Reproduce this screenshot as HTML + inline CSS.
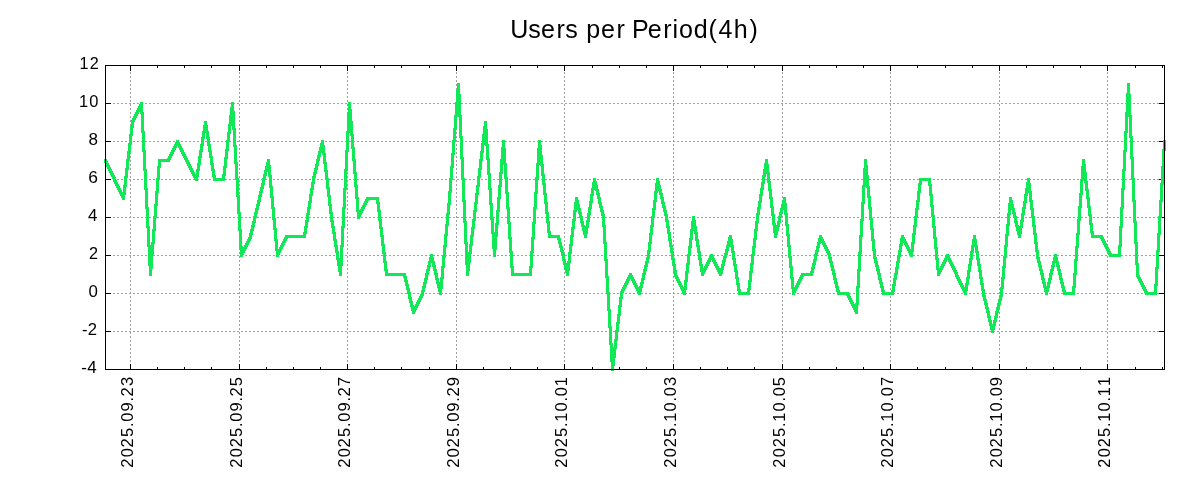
<!DOCTYPE html>
<html><head><meta charset="utf-8"><title>Users per Period(4h)</title><style>
html,body{margin:0;padding:0;background:#fff;width:1200px;height:500px;overflow:hidden}
svg{display:block;will-change:transform}
text{font-family:"Liberation Sans",sans-serif;fill:#000000}
</style></head><body>
<svg width="1200" height="500" viewBox="0 0 1200 500">
<rect x="0" y="0" width="1200" height="500" fill="#ffffff"/>
<g shape-rendering="crispEdges">
<path fill="#a0a0a0" d="M564 72h1v2h-1zM130 72h1v2h-1zM239 72h1v2h-1zM673 72h1v2h-1zM782 72h1v2h-1zM999 72h1v2h-1zM1107 72h1v2h-1zM890 72h1v2h-1zM347 72h1v2h-1zM456 72h1v2h-1zM564 76h1v2h-1zM130 76h1v2h-1zM239 76h1v2h-1zM673 76h1v2h-1zM782 76h1v2h-1zM999 76h1v2h-1zM1107 76h1v2h-1zM890 76h1v2h-1zM347 76h1v2h-1zM456 76h1v2h-1zM564 80h1v2h-1zM130 80h1v2h-1zM239 80h1v2h-1zM673 80h1v2h-1zM782 80h1v2h-1zM999 80h1v2h-1zM1107 80h1v2h-1zM890 80h1v2h-1zM347 80h1v2h-1zM456 80h1v2h-1zM564 84h1v2h-1zM130 84h1v2h-1zM239 84h1v2h-1zM673 84h1v2h-1zM782 84h1v2h-1zM999 84h1v2h-1zM1107 84h1v2h-1zM890 84h1v2h-1zM347 84h1v2h-1zM456 84h1v2h-1zM564 88h1v2h-1zM130 88h1v2h-1zM239 88h1v2h-1zM673 88h1v2h-1zM782 88h1v2h-1zM999 88h1v2h-1zM1107 88h1v2h-1zM890 88h1v2h-1zM347 88h1v2h-1zM456 88h1v2h-1zM564 92h1v2h-1zM130 92h1v2h-1zM239 92h1v2h-1zM673 92h1v2h-1zM782 92h1v2h-1zM1107 92h1v2h-1zM890 92h1v2h-1zM347 92h1v2h-1zM999 92h1v2h-1zM564 96h1v2h-1zM130 96h1v2h-1zM239 96h1v2h-1zM673 96h1v2h-1zM782 96h1v2h-1zM1107 96h1v2h-1zM890 96h1v2h-1zM347 96h1v2h-1zM999 96h1v2h-1zM564 100h1v2h-1zM130 100h1v2h-1zM239 100h1v2h-1zM673 100h1v2h-1zM782 100h1v2h-1zM1107 100h1v2h-1zM890 100h1v2h-1zM347 100h1v2h-1zM999 100h1v2h-1zM845 103h2v1h-2zM605 103h2v1h-2zM977 103h2v1h-2zM277 103h2v1h-2zM649 103h2v1h-2zM1045 103h2v1h-2zM433 103h2v1h-2zM409 103h2v1h-2zM477 103h2v1h-2zM805 103h2v1h-2zM1005 103h2v1h-2zM237 103h2v1h-2zM609 103h2v1h-2zM981 103h2v1h-2zM501 103h2v1h-2zM873 103h2v1h-2zM1073 103h2v1h-2zM305 103h2v1h-2zM677 103h2v1h-2zM437 103h2v1h-2zM133 103h2v1h-2zM505 103h2v1h-2zM877 103h2v1h-2zM637 103h2v1h-2zM769 103h2v1h-2zM373 103h2v1h-2zM745 103h2v1h-2zM1141 103h2v1h-2zM901 103h2v1h-2zM201 103h2v1h-2zM177 103h2v1h-2zM573 103h2v1h-2zM729 103h2v1h-2zM333 103h2v1h-2zM705 103h2v1h-2zM377 103h2v1h-2zM773 103h2v1h-2zM945 103h2v1h-2zM161 103h2v1h-2zM137 103h2v1h-2zM533 103h2v1h-2zM905 103h2v1h-2zM337 103h2v1h-2zM269 103h2v1h-2zM797 103h2v1h-2zM469 103h2v1h-2zM841 103h2v1h-2zM997 103h2v1h-2zM229 103h2v1h-2zM601 103h2v1h-2zM273 103h2v1h-2zM645 103h2v1h-2zM973 103h2v1h-2zM429 103h2v1h-2zM405 103h2v1h-2zM801 103h2v1h-2zM1153 103h2v1h-2zM234 103h1v1h-1zM1065 103h2v1h-2zM669 103h2v1h-2zM1041 103h2v1h-2zM497 103h2v1h-2zM473 103h2v1h-2zM169 103h2v1h-2zM869 103h2v1h-2zM257 103h2v1h-2zM629 103h2v1h-2zM301 103h2v1h-2zM673 103h2v1h-2zM697 103h2v1h-2zM829 103h2v1h-2zM1001 103h2v1h-2zM1069 103h2v1h-2zM1125 103h1v1h-1zM261 103h2v1h-2zM633 103h2v1h-2zM565 103h2v1h-2zM937 103h2v1h-2zM1093 103h2v1h-2zM765 103h2v1h-2zM369 103h2v1h-2zM741 103h2v1h-2zM1137 103h2v1h-2zM153 103h2v1h-2zM129 103h2v1h-2zM197 103h2v1h-2zM173 103h2v1h-2zM525 103h2v1h-2zM569 103h2v1h-2zM329 103h2v1h-2zM701 103h2v1h-2zM725 103h2v1h-2zM897 103h2v1h-2zM941 103h2v1h-2zM157 103h2v1h-2zM529 103h2v1h-2zM1097 103h2v1h-2zM833 103h2v1h-2zM965 103h2v1h-2zM1033 103h2v1h-2zM265 103h2v1h-2zM793 103h2v1h-2zM397 103h2v1h-2zM465 103h2v1h-2zM837 103h2v1h-2zM925 103h2v1h-2zM993 103h2v1h-2zM225 103h2v1h-2zM597 103h2v1h-2zM969 103h2v1h-2zM357 103h2v1h-2zM401 103h2v1h-2zM489 103h2v1h-2zM861 103h2v1h-2zM1061 103h2v1h-2zM293 103h2v1h-2zM665 103h2v1h-2zM1037 103h2v1h-2zM449 103h2v1h-2zM425 103h2v1h-2zM493 103h2v1h-2zM821 103h2v1h-2zM865 103h2v1h-2zM1021 103h2v1h-2zM253 103h2v1h-2zM625 103h2v1h-2zM297 103h2v1h-2zM825 103h2v1h-2zM953 103h2v1h-2zM361 103h2v1h-2zM189 103h2v1h-2zM561 103h2v1h-2zM933 103h2v1h-2zM1089 103h2v1h-2zM321 103h2v1h-2zM693 103h2v1h-2zM365 103h2v1h-2zM737 103h2v1h-2zM761 103h2v1h-2zM149 103h2v1h-2zM125 103h2v1h-2zM521 103h2v1h-2zM893 103h2v1h-2zM1133 103h2v1h-2zM325 103h2v1h-2zM785 103h2v1h-2zM1157 103h2v1h-2zM217 103h2v1h-2zM193 103h2v1h-2zM589 103h2v1h-2zM961 103h2v1h-2zM721 103h2v1h-2zM789 103h2v1h-2zM393 103h2v1h-2zM921 103h2v1h-2zM221 103h2v1h-2zM593 103h2v1h-2zM353 103h2v1h-2zM1053 103h2v1h-2zM1029 103h2v1h-2zM485 103h2v1h-2zM461 103h2v1h-2zM857 103h2v1h-2zM1013 103h2v1h-2zM245 103h2v1h-2zM617 103h2v1h-2zM289 103h2v1h-2zM661 103h2v1h-2zM989 103h2v1h-2zM445 103h2v1h-2zM421 103h2v1h-2zM817 103h2v1h-2zM1057 103h2v1h-2zM1017 103h2v1h-2zM249 103h2v1h-2zM621 103h2v1h-2zM581 103h2v1h-2zM553 103h2v1h-2zM909 103h2v1h-2zM753 103h2v1h-2zM513 103h2v1h-2zM885 103h2v1h-2zM185 103h2v1h-2zM557 103h2v1h-2zM929 103h2v1h-2zM713 103h2v1h-2zM317 103h2v1h-2zM689 103h2v1h-2zM1085 103h2v1h-2zM145 103h2v1h-2zM121 103h2v1h-2zM517 103h2v1h-2zM889 103h2v1h-2zM781 103h2v1h-2zM385 103h2v1h-2zM453 103h2v1h-2zM757 103h2v1h-2zM541 103h2v1h-2zM913 103h2v1h-2zM213 103h2v1h-2zM585 103h2v1h-2zM957 103h2v1h-2zM1101 103h2v1h-2zM345 103h2v1h-2zM413 103h2v1h-2zM389 103h2v1h-2zM717 103h2v1h-2zM1113 103h2v1h-2zM545 103h2v1h-2zM917 103h2v1h-2zM849 103h2v1h-2zM1049 103h2v1h-2zM281 103h2v1h-2zM653 103h2v1h-2zM1025 103h2v1h-2zM809 103h2v1h-2zM481 103h2v1h-2zM853 103h2v1h-2zM1009 103h2v1h-2zM241 103h2v1h-2zM613 103h2v1h-2zM285 103h2v1h-2zM657 103h2v1h-2zM985 103h2v1h-2zM441 103h2v1h-2zM417 103h2v1h-2zM813 103h2v1h-2zM1117 103h2v1h-2zM537 103h2v1h-2zM549 103h2v1h-2zM1077 103h2v1h-2zM309 103h2v1h-2zM681 103h2v1h-2zM749 103h2v1h-2zM1121 103h2v1h-2zM509 103h2v1h-2zM113 103h2v1h-2zM881 103h2v1h-2zM641 103h2v1h-2zM709 103h2v1h-2zM313 103h2v1h-2zM685 103h2v1h-2zM1081 103h2v1h-2zM117 103h2v1h-2zM1145 103h2v1h-2zM205 103h2v1h-2zM181 103h2v1h-2zM577 103h2v1h-2zM733 103h2v1h-2zM949 103h2v1h-2zM777 103h2v1h-2zM381 103h2v1h-2zM1105 103h2v1h-2zM1149 103h2v1h-2zM165 103h2v1h-2zM209 103h2v1h-2zM1109 103h2v1h-2zM341 103h2v1h-2zM564 104h1v2h-1zM130 104h1v2h-1zM239 104h1v2h-1zM673 104h1v2h-1zM782 104h1v2h-1zM1107 104h1v2h-1zM890 104h1v2h-1zM347 104h1v2h-1zM999 104h1v2h-1zM564 108h1v2h-1zM130 108h1v2h-1zM239 108h1v2h-1zM673 108h1v2h-1zM782 108h1v2h-1zM1107 108h1v2h-1zM890 108h1v2h-1zM347 108h1v2h-1zM999 108h1v2h-1zM564 112h1v2h-1zM130 112h1v2h-1zM239 112h1v2h-1zM673 112h1v2h-1zM782 112h1v2h-1zM1107 112h1v2h-1zM890 112h1v2h-1zM999 112h1v2h-1zM564 116h1v2h-1zM130 116h1v2h-1zM239 116h1v2h-1zM673 116h1v2h-1zM782 116h1v2h-1zM999 116h1v2h-1zM1107 116h1v2h-1zM890 116h1v2h-1zM564 120h1v2h-1zM130 120h1v2h-1zM239 120h1v2h-1zM673 120h1v2h-1zM782 120h1v2h-1zM999 120h1v2h-1zM1107 120h1v2h-1zM890 120h1v2h-1zM564 124h1v2h-1zM782 124h1v2h-1zM1107 124h1v2h-1zM130 124h1v2h-1zM999 124h1v2h-1zM673 124h1v2h-1zM239 124h1v2h-1zM890 124h1v2h-1zM564 128h1v2h-1zM782 128h1v2h-1zM1107 128h1v2h-1zM999 128h1v2h-1zM673 128h1v2h-1zM239 128h1v2h-1zM890 128h1v2h-1zM564 132h1v2h-1zM782 132h1v2h-1zM456 132h1v2h-1zM1107 132h1v2h-1zM999 132h1v2h-1zM673 132h1v2h-1zM239 132h1v2h-1zM890 132h1v2h-1zM564 136h1v2h-1zM782 136h1v2h-1zM456 136h1v2h-1zM1107 136h1v2h-1zM999 136h1v2h-1zM673 136h1v2h-1zM239 136h1v2h-1zM890 136h1v2h-1zM564 140h1v1h-1zM782 140h1v1h-1zM456 140h1v1h-1zM1107 140h1v1h-1zM999 140h1v1h-1zM673 140h1v1h-1zM239 140h1v1h-1zM890 140h1v1h-1zM225 141h1v1h-1zM845 141h2v1h-2zM605 141h2v1h-2zM977 141h2v1h-2zM277 141h2v1h-2zM649 141h2v1h-2zM1045 141h2v1h-2zM433 141h2v1h-2zM409 141h2v1h-2zM477 141h2v1h-2zM805 141h2v1h-2zM609 141h2v1h-2zM981 141h2v1h-2zM1005 141h2v1h-2zM873 141h2v1h-2zM1073 141h2v1h-2zM305 141h2v1h-2zM677 141h2v1h-2zM1129 141h1v1h-1zM437 141h2v1h-2zM133 141h2v1h-2zM505 141h2v1h-2zM877 141h2v1h-2zM637 141h2v1h-2zM345 141h1v1h-1zM769 141h2v1h-2zM373 141h2v1h-2zM745 141h2v1h-2zM1141 141h2v1h-2zM901 141h2v1h-2zM573 141h2v1h-2zM945 141h2v1h-2zM729 141h2v1h-2zM333 141h2v1h-2zM705 141h2v1h-2zM377 141h2v1h-2zM773 141h2v1h-2zM1101 141h2v1h-2zM161 141h2v1h-2zM137 141h2v1h-2zM533 141h2v1h-2zM905 141h2v1h-2zM337 141h2v1h-2zM269 141h2v1h-2zM797 141h2v1h-2zM469 141h2v1h-2zM841 141h2v1h-2zM601 141h2v1h-2zM973 141h2v1h-2zM273 141h2v1h-2zM645 141h2v1h-2zM429 141h2v1h-2zM405 141h2v1h-2zM801 141h2v1h-2zM1065 141h2v1h-2zM669 141h2v1h-2zM1041 141h2v1h-2zM497 141h2v1h-2zM473 141h2v1h-2zM169 141h2v1h-2zM869 141h2v1h-2zM257 141h2v1h-2zM629 141h2v1h-2zM301 141h2v1h-2zM673 141h2v1h-2zM697 141h2v1h-2zM829 141h2v1h-2zM1001 141h2v1h-2zM1069 141h2v1h-2zM141 141h1v1h-1zM261 141h2v1h-2zM633 141h2v1h-2zM937 141h2v1h-2zM1093 141h2v1h-2zM765 141h2v1h-2zM369 141h2v1h-2zM741 141h2v1h-2zM1137 141h2v1h-2zM153 141h2v1h-2zM525 141h2v1h-2zM197 141h2v1h-2zM173 141h2v1h-2zM569 141h2v1h-2zM725 141h2v1h-2zM329 141h2v1h-2zM354 141h1v1h-1zM701 141h2v1h-2zM897 141h2v1h-2zM941 141h2v1h-2zM157 141h2v1h-2zM529 141h2v1h-2zM1097 141h2v1h-2zM833 141h2v1h-2zM965 141h2v1h-2zM1033 141h2v1h-2zM265 141h2v1h-2zM793 141h2v1h-2zM397 141h2v1h-2zM465 141h2v1h-2zM837 141h2v1h-2zM925 141h2v1h-2zM597 141h2v1h-2zM969 141h2v1h-2zM993 141h2v1h-2zM357 141h2v1h-2zM401 141h2v1h-2zM481 141h1v1h-1zM230 141h1v1h-1zM489 141h2v1h-2zM861 141h2v1h-2zM1061 141h2v1h-2zM293 141h2v1h-2zM665 141h2v1h-2zM1037 141h2v1h-2zM449 141h2v1h-2zM425 141h2v1h-2zM493 141h2v1h-2zM821 141h2v1h-2zM865 141h2v1h-2zM1021 141h2v1h-2zM253 141h2v1h-2zM625 141h2v1h-2zM297 141h2v1h-2zM825 141h2v1h-2zM953 141h2v1h-2zM361 141h2v1h-2zM189 141h2v1h-2zM561 141h2v1h-2zM933 141h2v1h-2zM1089 141h2v1h-2zM693 141h2v1h-2zM761 141h2v1h-2zM365 141h2v1h-2zM737 141h2v1h-2zM1133 141h2v1h-2zM149 141h2v1h-2zM125 141h2v1h-2zM521 141h2v1h-2zM893 141h2v1h-2zM325 141h2v1h-2zM537 141h1v1h-1zM785 141h2v1h-2zM1157 141h2v1h-2zM564 141h3v1h-3zM217 141h2v1h-2zM193 141h2v1h-2zM589 141h2v1h-2zM721 141h2v1h-2zM789 141h2v1h-2zM393 141h2v1h-2zM961 141h2v1h-2zM921 141h2v1h-2zM221 141h2v1h-2zM593 141h2v1h-2zM456 141h3v1h-3zM1053 141h2v1h-2zM1029 141h2v1h-2zM1105 141h3v1h-3zM857 141h2v1h-2zM1013 141h2v1h-2zM245 141h2v1h-2zM617 141h2v1h-2zM289 141h2v1h-2zM661 141h2v1h-2zM989 141h2v1h-2zM445 141h2v1h-2zM421 141h2v1h-2zM817 141h2v1h-2zM1057 141h2v1h-2zM501 141h1v1h-1zM1017 141h2v1h-2zM249 141h2v1h-2zM621 141h2v1h-2zM553 141h2v1h-2zM909 141h2v1h-2zM753 141h2v1h-2zM513 141h2v1h-2zM885 141h2v1h-2zM185 141h2v1h-2zM237 141h3v1h-3zM557 141h2v1h-2zM713 141h2v1h-2zM317 141h2v1h-2zM689 141h2v1h-2zM929 141h2v1h-2zM1085 141h2v1h-2zM145 141h2v1h-2zM121 141h2v1h-2zM517 141h2v1h-2zM889 141h2v1h-2zM781 141h2v1h-2zM385 141h2v1h-2zM757 141h2v1h-2zM1153 141h2v1h-2zM541 141h2v1h-2zM213 141h2v1h-2zM585 141h2v1h-2zM913 141h2v1h-2zM957 141h2v1h-2zM717 141h2v1h-2zM413 141h2v1h-2zM389 141h2v1h-2zM1113 141h2v1h-2zM545 141h2v1h-2zM917 141h2v1h-2zM349 141h2v1h-2zM849 141h2v1h-2zM1049 141h2v1h-2zM281 141h2v1h-2zM653 141h2v1h-2zM1025 141h2v1h-2zM809 141h2v1h-2zM853 141h2v1h-2zM1009 141h2v1h-2zM241 141h2v1h-2zM613 141h2v1h-2zM285 141h2v1h-2zM657 141h2v1h-2zM985 141h2v1h-2zM417 141h2v1h-2zM441 141h2v1h-2zM813 141h2v1h-2zM1117 141h2v1h-2zM549 141h2v1h-2zM997 141h3v1h-3zM1077 141h2v1h-2zM309 141h2v1h-2zM681 141h2v1h-2zM749 141h2v1h-2zM1121 141h2v1h-2zM509 141h2v1h-2zM113 141h2v1h-2zM881 141h2v1h-2zM641 141h2v1h-2zM709 141h2v1h-2zM313 141h2v1h-2zM685 141h2v1h-2zM1081 141h2v1h-2zM117 141h2v1h-2zM1145 141h2v1h-2zM205 141h2v1h-2zM181 141h2v1h-2zM577 141h2v1h-2zM733 141h2v1h-2zM949 141h2v1h-2zM777 141h2v1h-2zM381 141h2v1h-2zM1149 141h2v1h-2zM165 141h2v1h-2zM581 141h2v1h-2zM210 141h1v1h-1zM1109 141h2v1h-2zM341 141h2v1h-2zM564 144h1v2h-1zM782 144h1v2h-1zM456 144h1v2h-1zM1107 144h1v2h-1zM999 144h1v2h-1zM673 144h1v2h-1zM239 144h1v2h-1zM890 144h1v2h-1zM564 148h1v2h-1zM782 148h1v2h-1zM456 148h1v2h-1zM1107 148h1v2h-1zM999 148h1v2h-1zM673 148h1v2h-1zM239 148h1v2h-1zM890 148h1v2h-1zM564 152h1v2h-1zM782 152h1v2h-1zM456 152h1v2h-1zM1107 152h1v2h-1zM999 152h1v2h-1zM673 152h1v2h-1zM239 152h1v2h-1zM890 152h1v2h-1zM130 153h1v1h-1zM564 156h1v2h-1zM782 156h1v2h-1zM456 156h1v2h-1zM1107 156h1v2h-1zM130 156h1v2h-1zM890 156h1v2h-1zM999 156h1v2h-1zM673 156h1v2h-1zM239 156h1v2h-1zM564 160h1v2h-1zM782 160h1v2h-1zM456 160h1v2h-1zM1107 160h1v2h-1zM130 160h1v2h-1zM999 160h1v2h-1zM673 160h1v2h-1zM239 160h1v2h-1zM890 160h1v2h-1zM564 164h1v2h-1zM782 164h1v2h-1zM456 164h1v2h-1zM1107 164h1v2h-1zM130 164h1v2h-1zM999 164h1v2h-1zM673 164h1v2h-1zM239 164h1v2h-1zM890 164h1v2h-1zM564 168h1v2h-1zM782 168h1v2h-1zM456 168h1v2h-1zM1107 168h1v2h-1zM130 168h1v2h-1zM999 168h1v2h-1zM673 168h1v2h-1zM239 168h1v2h-1zM890 168h1v2h-1zM564 172h1v2h-1zM782 172h1v2h-1zM456 172h1v2h-1zM1107 172h1v2h-1zM130 172h1v2h-1zM890 172h1v2h-1zM999 172h1v2h-1zM673 172h1v2h-1zM347 172h1v2h-1zM239 172h1v2h-1zM564 176h1v2h-1zM782 176h1v2h-1zM456 176h1v2h-1zM1107 176h1v2h-1zM130 176h1v2h-1zM890 176h1v2h-1zM999 176h1v2h-1zM673 176h1v2h-1zM347 176h1v2h-1zM239 176h1v2h-1zM1009 179h2v1h-2zM845 179h2v1h-2zM605 179h2v1h-2zM977 179h2v1h-2zM277 179h2v1h-2zM649 179h2v1h-2zM1045 179h2v1h-2zM433 179h2v1h-2zM409 179h2v1h-2zM805 179h2v1h-2zM1005 179h2v1h-2zM609 179h2v1h-2zM981 179h2v1h-2zM266 179h1v1h-1zM873 179h2v1h-2zM1073 179h2v1h-2zM305 179h2v1h-2zM677 179h2v1h-2zM437 179h2v1h-2zM133 179h2v1h-2zM877 179h2v1h-2zM637 179h2v1h-2zM761 179h1v1h-1zM1141 179h2v1h-2zM373 179h2v1h-2zM745 179h2v1h-2zM901 179h2v1h-2zM201 179h2v1h-2zM177 179h2v1h-2zM573 179h2v1h-2zM729 179h2v1h-2zM333 179h2v1h-2zM705 179h2v1h-2zM377 179h2v1h-2zM773 179h2v1h-2zM945 179h2v1h-2zM161 179h2v1h-2zM137 179h2v1h-2zM533 179h2v1h-2zM905 179h2v1h-2zM337 179h2v1h-2zM797 179h2v1h-2zM469 179h2v1h-2zM841 179h2v1h-2zM997 179h2v1h-2zM229 179h2v1h-2zM601 179h2v1h-2zM273 179h2v1h-2zM645 179h2v1h-2zM973 179h2v1h-2zM429 179h2v1h-2zM405 179h2v1h-2zM801 179h2v1h-2zM233 179h2v1h-2zM1153 179h2v1h-2zM1065 179h2v1h-2zM669 179h2v1h-2zM1041 179h2v1h-2zM497 179h2v1h-2zM473 179h2v1h-2zM169 179h2v1h-2zM869 179h2v1h-2zM257 179h2v1h-2zM629 179h2v1h-2zM301 179h2v1h-2zM673 179h2v1h-2zM697 179h2v1h-2zM829 179h2v1h-2zM1001 179h2v1h-2zM502 179h1v1h-1zM1069 179h2v1h-2zM633 179h2v1h-2zM1030 179h1v1h-1zM565 179h2v1h-2zM937 179h2v1h-2zM1093 179h2v1h-2zM765 179h2v1h-2zM369 179h2v1h-2zM741 179h2v1h-2zM1137 179h2v1h-2zM153 179h2v1h-2zM129 179h2v1h-2zM173 179h2v1h-2zM198 179h1v1h-1zM525 179h2v1h-2zM329 179h2v1h-2zM569 179h2v1h-2zM701 179h2v1h-2zM725 179h2v1h-2zM770 179h1v1h-1zM529 179h2v1h-2zM1097 179h2v1h-2zM541 179h1v1h-1zM833 179h2v1h-2zM965 179h2v1h-2zM1033 179h2v1h-2zM793 179h2v1h-2zM397 179h2v1h-2zM465 179h2v1h-2zM837 179h2v1h-2zM993 179h2v1h-2zM225 179h2v1h-2zM597 179h2v1h-2zM969 179h2v1h-2zM357 179h2v1h-2zM401 179h2v1h-2zM861 179h2v1h-2zM1061 179h2v1h-2zM293 179h2v1h-2zM665 179h2v1h-2zM1037 179h2v1h-2zM821 179h2v1h-2zM425 179h2v1h-2zM493 179h2v1h-2zM1021 179h2v1h-2zM253 179h2v1h-2zM625 179h2v1h-2zM297 179h2v1h-2zM825 179h2v1h-2zM1121 179h1v1h-1zM953 179h2v1h-2zM1129 179h2v1h-2zM361 179h2v1h-2zM189 179h2v1h-2zM561 179h2v1h-2zM933 179h2v1h-2zM1089 179h2v1h-2zM321 179h2v1h-2zM693 179h2v1h-2zM365 179h2v1h-2zM737 179h2v1h-2zM149 179h2v1h-2zM521 179h2v1h-2zM893 179h2v1h-2zM785 179h2v1h-2zM1157 179h2v1h-2zM589 179h2v1h-2zM961 179h2v1h-2zM721 179h2v1h-2zM789 179h2v1h-2zM393 179h2v1h-2zM1049 179h2v1h-2zM261 179h1v1h-1zM1053 179h2v1h-2zM1057 179h2v1h-2zM485 179h2v1h-2zM857 179h2v1h-2zM245 179h2v1h-2zM617 179h2v1h-2zM289 179h2v1h-2zM661 179h2v1h-2zM445 179h2v1h-2zM421 179h2v1h-2zM817 179h2v1h-2zM989 179h2v1h-2zM941 179h2v1h-2zM1017 179h2v1h-2zM249 179h2v1h-2zM621 179h2v1h-2zM581 179h2v1h-2zM553 179h2v1h-2zM909 179h2v1h-2zM753 179h2v1h-2zM1125 179h2v1h-2zM513 179h2v1h-2zM885 179h2v1h-2zM185 179h2v1h-2zM557 179h2v1h-2zM713 179h2v1h-2zM317 179h2v1h-2zM689 179h2v1h-2zM517 179h2v1h-2zM121 179h2v1h-2zM889 179h2v1h-2zM781 179h2v1h-2zM385 179h2v1h-2zM453 179h2v1h-2zM757 179h2v1h-2zM913 179h2v1h-2zM1101 179h2v1h-2zM585 179h2v1h-2zM957 179h2v1h-2zM1113 179h2v1h-2zM717 179h2v1h-2zM413 179h2v1h-2zM389 179h2v1h-2zM545 179h2v1h-2zM917 179h2v1h-2zM349 179h2v1h-2zM849 179h2v1h-2zM1013 179h2v1h-2zM281 179h2v1h-2zM653 179h2v1h-2zM809 179h2v1h-2zM1025 179h2v1h-2zM481 179h2v1h-2zM457 179h2v1h-2zM241 179h2v1h-2zM285 179h2v1h-2zM613 179h2v1h-2zM853 179h2v1h-2zM441 179h2v1h-2zM417 179h2v1h-2zM813 179h2v1h-2zM985 179h2v1h-2zM897 179h2v1h-2zM1117 179h2v1h-2zM549 179h2v1h-2zM1077 179h2v1h-2zM309 179h2v1h-2zM681 179h2v1h-2zM749 179h2v1h-2zM509 179h2v1h-2zM881 179h2v1h-2zM193 179h1v1h-1zM641 179h2v1h-2zM685 179h2v1h-2zM709 179h2v1h-2zM117 179h2v1h-2zM538 179h1v1h-1zM353 179h1v1h-1zM1145 179h2v1h-2zM205 179h2v1h-2zM181 179h2v1h-2zM577 179h2v1h-2zM733 179h2v1h-2zM949 179h2v1h-2zM777 179h2v1h-2zM381 179h2v1h-2zM1105 179h2v1h-2zM1149 179h2v1h-2zM165 179h2v1h-2zM141 179h2v1h-2zM209 179h2v1h-2zM1109 179h2v1h-2zM341 179h2v1h-2zM564 180h1v2h-1zM782 180h1v2h-1zM456 180h1v2h-1zM130 180h1v2h-1zM1107 180h1v2h-1zM890 180h1v2h-1zM999 180h1v2h-1zM673 180h1v2h-1zM347 180h1v2h-1zM239 180h1v2h-1zM564 184h1v2h-1zM782 184h1v2h-1zM456 184h1v2h-1zM130 184h1v2h-1zM1107 184h1v2h-1zM890 184h1v2h-1zM999 184h1v2h-1zM673 184h1v2h-1zM347 184h1v2h-1zM239 184h1v2h-1zM564 188h1v2h-1zM782 188h1v2h-1zM456 188h1v2h-1zM1107 188h1v2h-1zM130 188h1v2h-1zM999 188h1v2h-1zM673 188h1v2h-1zM347 188h1v2h-1zM239 188h1v2h-1zM890 188h1v2h-1zM564 192h1v2h-1zM782 192h1v2h-1zM456 192h1v2h-1zM130 192h1v2h-1zM1107 192h1v2h-1zM999 192h1v2h-1zM673 192h1v2h-1zM347 192h1v2h-1zM239 192h1v2h-1zM890 192h1v2h-1zM564 196h1v2h-1zM782 196h1v2h-1zM456 196h1v2h-1zM1107 196h1v2h-1zM130 196h1v2h-1zM999 196h1v2h-1zM673 196h1v2h-1zM347 196h1v2h-1zM890 196h1v2h-1zM564 200h1v2h-1zM456 200h1v2h-1zM130 200h1v2h-1zM1107 200h1v2h-1zM999 200h1v2h-1zM673 200h1v2h-1zM347 200h1v2h-1zM890 200h1v2h-1zM564 204h1v2h-1zM456 204h1v2h-1zM130 204h1v2h-1zM1107 204h1v2h-1zM999 204h1v2h-1zM673 204h1v2h-1zM347 204h1v2h-1zM890 204h1v2h-1zM564 208h1v2h-1zM456 208h1v2h-1zM130 208h1v2h-1zM1107 208h1v2h-1zM999 208h1v2h-1zM673 208h1v2h-1zM347 208h1v2h-1zM890 208h1v2h-1zM564 212h1v2h-1zM456 212h1v2h-1zM130 212h1v2h-1zM1107 212h1v2h-1zM999 212h1v2h-1zM673 212h1v2h-1zM347 212h1v2h-1zM890 212h1v2h-1zM564 216h1v1h-1zM456 216h1v1h-1zM130 216h1v1h-1zM1107 216h1v1h-1zM999 216h1v1h-1zM673 216h1v1h-1zM347 216h1v1h-1zM890 216h1v1h-1zM782 216h1v2h-1zM845 217h2v1h-2zM605 217h2v1h-2zM977 217h2v1h-2zM277 217h2v1h-2zM649 217h2v1h-2zM433 217h2v1h-2zM409 217h2v1h-2zM477 217h2v1h-2zM805 217h2v1h-2zM489 217h1v1h-1zM1005 217h2v1h-2zM609 217h2v1h-2zM981 217h2v1h-2zM501 217h2v1h-2zM873 217h2v1h-2zM1073 217h2v1h-2zM677 217h2v1h-2zM437 217h2v1h-2zM133 217h2v1h-2zM505 217h2v1h-2zM877 217h2v1h-2zM637 217h2v1h-2zM913 217h1v1h-1zM466 217h1v1h-1zM545 217h1v1h-1zM510 217h1v1h-1zM769 217h2v1h-2zM373 217h2v1h-2zM745 217h2v1h-2zM1141 217h2v1h-2zM901 217h2v1h-2zM201 217h2v1h-2zM177 217h2v1h-2zM945 217h2v1h-2zM729 217h2v1h-2zM333 217h2v1h-2zM705 217h2v1h-2zM1101 217h2v1h-2zM1157 217h1v1h-1zM161 217h2v1h-2zM137 217h2v1h-2zM905 217h2v1h-2zM337 217h2v1h-2zM269 217h2v1h-2zM345 217h3v1h-3zM797 217h2v1h-2zM469 217h2v1h-2zM841 217h2v1h-2zM229 217h2v1h-2zM973 217h2v1h-2zM645 217h2v1h-2zM429 217h2v1h-2zM405 217h2v1h-2zM801 217h2v1h-2zM233 217h2v1h-2zM445 217h1v1h-1zM1065 217h2v1h-2zM669 217h2v1h-2zM1041 217h2v1h-2zM169 217h2v1h-2zM257 217h2v1h-2zM301 217h2v1h-2zM629 217h2v1h-2zM673 217h2v1h-2zM697 217h2v1h-2zM829 217h2v1h-2zM1069 217h2v1h-2zM261 217h2v1h-2zM633 217h2v1h-2zM341 217h1v1h-1zM145 217h1v1h-1zM937 217h2v1h-2zM1093 217h2v1h-2zM765 217h2v1h-2zM369 217h2v1h-2zM741 217h2v1h-2zM1137 217h2v1h-2zM525 217h2v1h-2zM129 217h2v1h-2zM197 217h2v1h-2zM173 217h2v1h-2zM569 217h2v1h-2zM701 217h2v1h-2zM725 217h2v1h-2zM897 217h2v1h-2zM941 217h2v1h-2zM1097 217h2v1h-2zM157 217h2v1h-2zM529 217h2v1h-2zM833 217h2v1h-2zM965 217h2v1h-2zM265 217h2v1h-2zM793 217h2v1h-2zM397 217h2v1h-2zM837 217h2v1h-2zM925 217h2v1h-2zM993 217h2v1h-2zM225 217h2v1h-2zM597 217h2v1h-2zM969 217h2v1h-2zM305 217h1v1h-1zM401 217h2v1h-2zM293 217h2v1h-2zM1037 217h2v1h-2zM1061 217h2v1h-2zM449 217h2v1h-2zM425 217h2v1h-2zM493 217h2v1h-2zM821 217h2v1h-2zM865 217h2v1h-2zM625 217h2v1h-2zM1001 217h2v1h-2zM297 217h2v1h-2zM1077 217h1v1h-1zM377 217h1v1h-1zM825 217h2v1h-2zM953 217h2v1h-2zM1129 217h2v1h-2zM361 217h2v1h-2zM189 217h2v1h-2zM561 217h2v1h-2zM321 217h2v1h-2zM761 217h2v1h-2zM365 217h2v1h-2zM737 217h2v1h-2zM149 217h2v1h-2zM125 217h2v1h-2zM521 217h2v1h-2zM590 217h1v1h-1zM601 217h1v1h-1zM893 217h2v1h-2zM325 217h2v1h-2zM918 217h1v1h-1zM777 217h1v1h-1zM564 217h3v1h-3zM217 217h2v1h-2zM193 217h2v1h-2zM721 217h2v1h-2zM789 217h2v1h-2zM393 217h2v1h-2zM961 217h2v1h-2zM921 217h2v1h-2zM221 217h2v1h-2zM593 217h2v1h-2zM353 217h2v1h-2zM456 217h3v1h-3zM237 217h1v1h-1zM1029 217h2v1h-2zM1053 217h2v1h-2zM1105 217h3v1h-3zM485 217h2v1h-2zM461 217h2v1h-2zM857 217h2v1h-2zM245 217h2v1h-2zM617 217h2v1h-2zM289 217h2v1h-2zM661 217h2v1h-2zM989 217h2v1h-2zM817 217h2v1h-2zM421 217h2v1h-2zM1057 217h2v1h-2zM1017 217h2v1h-2zM249 217h2v1h-2zM621 217h2v1h-2zM329 217h1v1h-1zM553 217h2v1h-2zM909 217h2v1h-2zM753 217h2v1h-2zM1125 217h2v1h-2zM513 217h2v1h-2zM185 217h2v1h-2zM557 217h2v1h-2zM885 217h2v1h-2zM713 217h2v1h-2zM317 217h2v1h-2zM689 217h2v1h-2zM929 217h2v1h-2zM1085 217h2v1h-2zM517 217h2v1h-2zM121 217h2v1h-2zM889 217h2v1h-2zM1153 217h2v1h-2zM385 217h2v1h-2zM453 217h2v1h-2zM541 217h2v1h-2zM213 217h2v1h-2zM585 217h2v1h-2zM957 217h2v1h-2zM1113 217h2v1h-2zM717 217h2v1h-2zM413 217h2v1h-2zM389 217h2v1h-2zM1045 217h2v1h-2zM349 217h2v1h-2zM849 217h2v1h-2zM1049 217h2v1h-2zM281 217h2v1h-2zM1025 217h2v1h-2zM809 217h2v1h-2zM481 217h2v1h-2zM853 217h2v1h-2zM241 217h2v1h-2zM285 217h2v1h-2zM613 217h2v1h-2zM657 217h2v1h-2zM417 217h2v1h-2zM441 217h2v1h-2zM813 217h2v1h-2zM985 217h2v1h-2zM1010 217h1v1h-1zM1117 217h2v1h-2zM537 217h2v1h-2zM549 217h2v1h-2zM997 217h3v1h-3zM309 217h2v1h-2zM681 217h2v1h-2zM749 217h2v1h-2zM881 217h2v1h-2zM113 217h2v1h-2zM641 217h2v1h-2zM709 217h2v1h-2zM313 217h2v1h-2zM685 217h2v1h-2zM1081 217h2v1h-2zM117 217h2v1h-2zM1145 217h2v1h-2zM205 217h2v1h-2zM181 217h2v1h-2zM577 217h2v1h-2zM733 217h2v1h-2zM949 217h2v1h-2zM381 217h2v1h-2zM165 217h2v1h-2zM141 217h2v1h-2zM209 217h2v1h-2zM1149 217h2v1h-2zM1109 217h2v1h-2zM564 220h1v2h-1zM782 220h1v2h-1zM456 220h1v2h-1zM130 220h1v2h-1zM1107 220h1v2h-1zM890 220h1v2h-1zM999 220h1v2h-1zM673 220h1v2h-1zM347 220h1v2h-1zM564 224h1v2h-1zM782 224h1v2h-1zM456 224h1v2h-1zM1107 224h1v2h-1zM130 224h1v2h-1zM890 224h1v2h-1zM999 224h1v2h-1zM673 224h1v2h-1zM347 224h1v2h-1zM564 228h1v2h-1zM782 228h1v2h-1zM456 228h1v2h-1zM130 228h1v2h-1zM1107 228h1v2h-1zM890 228h1v2h-1zM999 228h1v2h-1zM673 228h1v2h-1zM347 228h1v2h-1zM564 232h1v2h-1zM782 232h1v2h-1zM456 232h1v2h-1zM130 232h1v2h-1zM1107 232h1v2h-1zM890 232h1v2h-1zM999 232h1v2h-1zM673 232h1v2h-1zM347 232h1v2h-1zM564 236h1v2h-1zM782 236h1v2h-1zM456 236h1v2h-1zM1107 236h1v2h-1zM130 236h1v2h-1zM890 236h1v2h-1zM999 236h1v2h-1zM673 236h1v2h-1zM347 236h1v2h-1zM564 240h1v2h-1zM782 240h1v2h-1zM456 240h1v2h-1zM1107 240h1v2h-1zM130 240h1v2h-1zM890 240h1v2h-1zM999 240h1v2h-1zM673 240h1v2h-1zM347 240h1v2h-1zM1107 244h1v1h-1zM564 244h1v2h-1zM782 244h1v2h-1zM456 244h1v2h-1zM130 244h1v2h-1zM999 244h1v2h-1zM673 244h1v2h-1zM347 244h1v2h-1zM890 244h1v2h-1zM564 248h1v2h-1zM782 248h1v2h-1zM456 248h1v2h-1zM130 248h1v2h-1zM890 248h1v2h-1zM999 248h1v2h-1zM673 248h1v2h-1zM347 248h1v2h-1zM239 248h1v2h-1zM564 252h1v2h-1zM782 252h1v2h-1zM456 252h1v2h-1zM130 252h1v2h-1zM999 252h1v2h-1zM347 252h1v2h-1zM239 252h1v2h-1zM890 252h1v2h-1zM1107 253h1v1h-1zM938 255h1v1h-1zM845 255h2v1h-2zM1045 255h2v1h-2zM674 255h1v1h-1zM433 255h2v1h-2zM409 255h2v1h-2zM477 255h2v1h-2zM805 255h2v1h-2zM237 255h2v1h-2zM609 255h2v1h-2zM981 255h2v1h-2zM501 255h2v1h-2zM1073 255h2v1h-2zM305 255h2v1h-2zM677 255h2v1h-2zM437 255h2v1h-2zM133 255h2v1h-2zM505 255h2v1h-2zM877 255h2v1h-2zM637 255h2v1h-2zM1078 255h1v1h-1zM769 255h2v1h-2zM373 255h2v1h-2zM745 255h2v1h-2zM1141 255h2v1h-2zM901 255h2v1h-2zM201 255h2v1h-2zM177 255h2v1h-2zM573 255h2v1h-2zM333 255h2v1h-2zM705 255h2v1h-2zM377 255h2v1h-2zM161 255h2v1h-2zM137 255h2v1h-2zM533 255h2v1h-2zM729 255h2v1h-2zM773 255h2v1h-2zM905 255h2v1h-2zM813 255h1v1h-1zM269 255h2v1h-2zM797 255h2v1h-2zM841 255h2v1h-2zM229 255h2v1h-2zM601 255h2v1h-2zM273 255h2v1h-2zM645 255h2v1h-2zM973 255h2v1h-2zM801 255h2v1h-2zM405 255h2v1h-2zM997 255h2v1h-2zM857 255h1v1h-1zM1053 255h1v1h-1zM233 255h2v1h-2zM1153 255h2v1h-2zM1065 255h2v1h-2zM669 255h2v1h-2zM1041 255h2v1h-2zM497 255h2v1h-2zM473 255h2v1h-2zM169 255h2v1h-2zM869 255h2v1h-2zM257 255h2v1h-2zM629 255h2v1h-2zM301 255h2v1h-2zM1001 255h2v1h-2zM1069 255h2v1h-2zM909 255h1v1h-1zM261 255h2v1h-2zM633 255h2v1h-2zM565 255h2v1h-2zM1093 255h2v1h-2zM765 255h2v1h-2zM369 255h2v1h-2zM741 255h2v1h-2zM525 255h2v1h-2zM129 255h2v1h-2zM197 255h2v1h-2zM173 255h2v1h-2zM941 255h2v1h-2zM1097 255h2v1h-2zM329 255h2v1h-2zM701 255h2v1h-2zM157 255h2v1h-2zM833 255h2v1h-2zM965 255h2v1h-2zM1033 255h2v1h-2zM265 255h2v1h-2zM397 255h2v1h-2zM793 255h2v1h-2zM837 255h2v1h-2zM925 255h2v1h-2zM225 255h2v1h-2zM597 255h2v1h-2zM357 255h2v1h-2zM993 255h2v1h-2zM401 255h2v1h-2zM489 255h2v1h-2zM861 255h2v1h-2zM1061 255h2v1h-2zM293 255h2v1h-2zM665 255h2v1h-2zM449 255h2v1h-2zM425 255h2v1h-2zM821 255h2v1h-2zM865 255h2v1h-2zM945 255h1v1h-1zM253 255h2v1h-2zM625 255h2v1h-2zM297 255h2v1h-2zM650 255h1v1h-1zM1021 255h2v1h-2zM825 255h2v1h-2zM509 255h1v1h-1zM953 255h2v1h-2zM709 255h1v1h-1zM1129 255h2v1h-2zM361 255h2v1h-2zM189 255h2v1h-2zM933 255h2v1h-2zM321 255h2v1h-2zM693 255h2v1h-2zM365 255h2v1h-2zM737 255h2v1h-2zM761 255h2v1h-2zM521 255h2v1h-2zM125 255h2v1h-2zM893 255h2v1h-2zM1089 255h2v1h-2zM1133 255h2v1h-2zM325 255h2v1h-2zM154 255h1v1h-1zM785 255h2v1h-2zM217 255h2v1h-2zM193 255h2v1h-2zM589 255h2v1h-2zM961 255h2v1h-2zM721 255h2v1h-2zM393 255h2v1h-2zM921 255h2v1h-2zM221 255h2v1h-2zM593 255h2v1h-2zM353 255h2v1h-2zM818 255h1v1h-1zM1029 255h2v1h-2zM485 255h2v1h-2zM461 255h2v1h-2zM1013 255h2v1h-2zM245 255h2v1h-2zM617 255h2v1h-2zM289 255h2v1h-2zM661 255h2v1h-2zM989 255h2v1h-2zM1057 255h2v1h-2zM421 255h2v1h-2zM1017 255h2v1h-2zM249 255h2v1h-2zM621 255h2v1h-2zM581 255h2v1h-2zM529 255h1v1h-1zM553 255h2v1h-2zM1125 255h2v1h-2zM513 255h2v1h-2zM885 255h2v1h-2zM185 255h2v1h-2zM557 255h2v1h-2zM929 255h2v1h-2zM713 255h2v1h-2zM317 255h2v1h-2zM1085 255h2v1h-2zM386 255h1v1h-1zM145 255h2v1h-2zM121 255h2v1h-2zM517 255h2v1h-2zM889 255h2v1h-2zM969 255h1v1h-1zM757 255h2v1h-2zM453 255h2v1h-2zM781 255h2v1h-2zM541 255h2v1h-2zM913 255h2v1h-2zM213 255h2v1h-2zM585 255h2v1h-2zM957 255h2v1h-2zM345 255h2v1h-2zM413 255h2v1h-2zM389 255h2v1h-2zM717 255h2v1h-2zM1101 255h2v1h-2zM545 255h2v1h-2zM917 255h2v1h-2zM1138 255h1v1h-1zM349 255h2v1h-2zM429 255h1v1h-1zM849 255h2v1h-2zM1049 255h2v1h-2zM281 255h2v1h-2zM653 255h2v1h-2zM1025 255h2v1h-2zM809 255h2v1h-2zM481 255h2v1h-2zM457 255h2v1h-2zM853 255h2v1h-2zM1009 255h2v1h-2zM613 255h2v1h-2zM985 255h2v1h-2zM285 255h2v1h-2zM657 255h2v1h-2zM441 255h2v1h-2zM417 255h2v1h-2zM697 255h1v1h-1zM446 255h1v1h-1zM537 255h2v1h-2zM549 255h2v1h-2zM309 255h2v1h-2zM681 255h2v1h-2zM749 255h2v1h-2zM1121 255h2v1h-2zM881 255h2v1h-2zM113 255h2v1h-2zM641 255h2v1h-2zM1081 255h2v1h-2zM313 255h2v1h-2zM685 255h2v1h-2zM117 255h2v1h-2zM1145 255h2v1h-2zM205 255h2v1h-2zM181 255h2v1h-2zM577 255h2v1h-2zM949 255h2v1h-2zM1105 255h2v1h-2zM777 255h2v1h-2zM381 255h2v1h-2zM1149 255h2v1h-2zM165 255h2v1h-2zM141 255h2v1h-2zM209 255h2v1h-2zM782 256h1v2h-1zM456 256h1v2h-1zM130 256h1v2h-1zM1107 256h1v2h-1zM999 256h1v2h-1zM347 256h1v2h-1zM239 256h1v2h-1zM890 256h1v2h-1zM782 260h1v2h-1zM456 260h1v2h-1zM1107 260h1v2h-1zM130 260h1v2h-1zM999 260h1v2h-1zM347 260h1v2h-1zM239 260h1v2h-1zM890 260h1v2h-1zM782 264h1v2h-1zM456 264h1v2h-1zM1107 264h1v2h-1zM130 264h1v2h-1zM999 264h1v2h-1zM347 264h1v2h-1zM239 264h1v2h-1zM890 264h1v2h-1zM782 268h1v2h-1zM456 268h1v2h-1zM130 268h1v2h-1zM1107 268h1v2h-1zM999 268h1v2h-1zM347 268h1v2h-1zM239 268h1v2h-1zM890 268h1v2h-1zM564 269h1v1h-1zM564 272h1v2h-1zM782 272h1v2h-1zM456 272h1v2h-1zM1107 272h1v2h-1zM130 272h1v2h-1zM999 272h1v2h-1zM673 272h1v2h-1zM347 272h1v2h-1zM239 272h1v2h-1zM890 272h1v2h-1zM564 276h1v2h-1zM782 276h1v2h-1zM456 276h1v2h-1zM1107 276h1v2h-1zM130 276h1v2h-1zM999 276h1v2h-1zM673 276h1v2h-1zM347 276h1v2h-1zM239 276h1v2h-1zM890 276h1v2h-1zM564 280h1v2h-1zM782 280h1v2h-1zM456 280h1v2h-1zM130 280h1v2h-1zM1107 280h1v2h-1zM999 280h1v2h-1zM673 280h1v2h-1zM347 280h1v2h-1zM239 280h1v2h-1zM890 280h1v2h-1zM564 284h1v2h-1zM782 284h1v2h-1zM456 284h1v2h-1zM130 284h1v2h-1zM1107 284h1v2h-1zM999 284h1v2h-1zM673 284h1v2h-1zM347 284h1v2h-1zM239 284h1v2h-1zM890 284h1v2h-1zM564 288h1v2h-1zM782 288h1v2h-1zM456 288h1v2h-1zM1107 288h1v2h-1zM130 288h1v2h-1zM999 288h1v2h-1zM673 288h1v2h-1zM347 288h1v2h-1zM239 288h1v2h-1zM890 288h1v2h-1zM564 292h1v1h-1zM782 292h1v1h-1zM456 292h1v1h-1zM1107 292h1v1h-1zM130 292h1v1h-1zM999 292h1v1h-1zM673 292h1v1h-1zM347 292h1v1h-1zM239 292h1v1h-1zM977 293h2v1h-2zM277 293h2v1h-2zM649 293h2v1h-2zM433 293h2v1h-2zM805 293h2v1h-2zM477 293h2v1h-2zM1005 293h2v1h-2zM501 293h2v1h-2zM873 293h2v1h-2zM305 293h2v1h-2zM677 293h2v1h-2zM437 293h2v1h-2zM133 293h2v1h-2zM505 293h2v1h-2zM877 293h2v1h-2zM769 293h2v1h-2zM373 293h2v1h-2zM1141 293h2v1h-2zM901 293h2v1h-2zM201 293h2v1h-2zM177 293h2v1h-2zM573 293h2v1h-2zM729 293h2v1h-2zM333 293h2v1h-2zM705 293h2v1h-2zM377 293h2v1h-2zM773 293h2v1h-2zM945 293h2v1h-2zM161 293h2v1h-2zM137 293h2v1h-2zM533 293h2v1h-2zM905 293h2v1h-2zM337 293h2v1h-2zM269 293h2v1h-2zM345 293h3v1h-3zM797 293h2v1h-2zM469 293h2v1h-2zM229 293h2v1h-2zM601 293h2v1h-2zM273 293h2v1h-2zM645 293h2v1h-2zM973 293h2v1h-2zM429 293h2v1h-2zM405 293h2v1h-2zM801 293h2v1h-2zM881 293h1v1h-1zM233 293h2v1h-2zM669 293h2v1h-2zM1041 293h2v1h-2zM497 293h2v1h-2zM473 293h2v1h-2zM169 293h2v1h-2zM869 293h2v1h-2zM257 293h2v1h-2zM629 293h2v1h-2zM301 293h2v1h-2zM673 293h2v1h-2zM697 293h2v1h-2zM829 293h2v1h-2zM894 293h1v1h-1zM261 293h2v1h-2zM633 293h2v1h-2zM937 293h2v1h-2zM1093 293h2v1h-2zM765 293h2v1h-2zM369 293h2v1h-2zM1137 293h2v1h-2zM153 293h2v1h-2zM129 293h2v1h-2zM197 293h2v1h-2zM173 293h2v1h-2zM525 293h2v1h-2zM569 293h2v1h-2zM329 293h2v1h-2zM605 293h1v1h-1zM701 293h2v1h-2zM725 293h2v1h-2zM941 293h2v1h-2zM157 293h2v1h-2zM529 293h2v1h-2zM1097 293h2v1h-2zM981 293h1v1h-1zM833 293h2v1h-2zM1033 293h2v1h-2zM265 293h2v1h-2zM397 293h2v1h-2zM465 293h2v1h-2zM925 293h2v1h-2zM993 293h2v1h-2zM225 293h2v1h-2zM597 293h2v1h-2zM357 293h2v1h-2zM969 293h2v1h-2zM401 293h2v1h-2zM637 293h1v1h-1zM489 293h2v1h-2zM861 293h2v1h-2zM1061 293h2v1h-2zM293 293h2v1h-2zM665 293h2v1h-2zM1037 293h2v1h-2zM449 293h2v1h-2zM425 293h2v1h-2zM493 293h2v1h-2zM821 293h2v1h-2zM865 293h2v1h-2zM1021 293h2v1h-2zM253 293h2v1h-2zM297 293h2v1h-2zM625 293h2v1h-2zM825 293h2v1h-2zM953 293h2v1h-2zM1129 293h2v1h-2zM361 293h2v1h-2zM189 293h2v1h-2zM561 293h2v1h-2zM933 293h2v1h-2zM1089 293h2v1h-2zM321 293h2v1h-2zM693 293h2v1h-2zM365 293h2v1h-2zM761 293h2v1h-2zM149 293h2v1h-2zM125 293h2v1h-2zM521 293h2v1h-2zM1133 293h2v1h-2zM325 293h2v1h-2zM785 293h2v1h-2zM1157 293h2v1h-2zM564 293h3v1h-3zM217 293h2v1h-2zM193 293h2v1h-2zM589 293h2v1h-2zM961 293h2v1h-2zM721 293h2v1h-2zM789 293h2v1h-2zM393 293h2v1h-2zM921 293h2v1h-2zM221 293h2v1h-2zM593 293h2v1h-2zM353 293h2v1h-2zM750 293h1v1h-1zM456 293h3v1h-3zM1053 293h2v1h-2zM1029 293h2v1h-2zM1105 293h3v1h-3zM485 293h2v1h-2zM461 293h2v1h-2zM1013 293h2v1h-2zM245 293h2v1h-2zM617 293h2v1h-2zM289 293h2v1h-2zM661 293h2v1h-2zM686 293h1v1h-1zM445 293h2v1h-2zM817 293h2v1h-2zM989 293h2v1h-2zM1057 293h2v1h-2zM1017 293h2v1h-2zM249 293h2v1h-2zM581 293h2v1h-2zM553 293h2v1h-2zM909 293h2v1h-2zM753 293h2v1h-2zM1125 293h2v1h-2zM513 293h2v1h-2zM185 293h2v1h-2zM237 293h3v1h-3zM557 293h2v1h-2zM713 293h2v1h-2zM317 293h2v1h-2zM689 293h2v1h-2zM929 293h2v1h-2zM1085 293h2v1h-2zM145 293h2v1h-2zM121 293h2v1h-2zM517 293h2v1h-2zM781 293h2v1h-2zM385 293h2v1h-2zM453 293h2v1h-2zM757 293h2v1h-2zM541 293h2v1h-2zM913 293h2v1h-2zM213 293h2v1h-2zM585 293h2v1h-2zM610 293h1v1h-1zM957 293h2v1h-2zM717 293h2v1h-2zM413 293h2v1h-2zM389 293h2v1h-2zM1101 293h2v1h-2zM1113 293h2v1h-2zM545 293h2v1h-2zM917 293h2v1h-2zM349 293h2v1h-2zM849 293h2v1h-2zM1049 293h2v1h-2zM281 293h2v1h-2zM653 293h2v1h-2zM1025 293h2v1h-2zM809 293h2v1h-2zM481 293h2v1h-2zM853 293h2v1h-2zM1009 293h2v1h-2zM241 293h2v1h-2zM613 293h2v1h-2zM285 293h2v1h-2zM657 293h2v1h-2zM985 293h2v1h-2zM737 293h1v1h-1zM417 293h2v1h-2zM442 293h1v1h-1zM813 293h2v1h-2zM897 293h2v1h-2zM1117 293h2v1h-2zM537 293h2v1h-2zM549 293h2v1h-2zM997 293h3v1h-3zM309 293h2v1h-2zM681 293h2v1h-2zM1077 293h2v1h-2zM1121 293h2v1h-2zM509 293h2v1h-2zM113 293h2v1h-2zM641 293h2v1h-2zM709 293h2v1h-2zM313 293h2v1h-2zM1081 293h2v1h-2zM117 293h2v1h-2zM205 293h2v1h-2zM181 293h2v1h-2zM577 293h2v1h-2zM733 293h2v1h-2zM949 293h2v1h-2zM777 293h2v1h-2zM381 293h2v1h-2zM165 293h2v1h-2zM141 293h2v1h-2zM209 293h2v1h-2zM1109 293h2v1h-2zM341 293h2v1h-2zM564 296h1v2h-1zM782 296h1v2h-1zM456 296h1v2h-1zM1107 296h1v2h-1zM130 296h1v2h-1zM673 296h1v2h-1zM347 296h1v2h-1zM239 296h1v2h-1zM890 296h1v2h-1zM564 300h1v2h-1zM782 300h1v2h-1zM456 300h1v2h-1zM1107 300h1v2h-1zM130 300h1v2h-1zM673 300h1v2h-1zM347 300h1v2h-1zM239 300h1v2h-1zM890 300h1v2h-1zM564 304h1v2h-1zM130 304h1v2h-1zM239 304h1v2h-1zM673 304h1v2h-1zM782 304h1v2h-1zM1107 304h1v2h-1zM890 304h1v2h-1zM347 304h1v2h-1zM456 304h1v2h-1zM564 308h1v2h-1zM130 308h1v2h-1zM239 308h1v2h-1zM673 308h1v2h-1zM782 308h1v2h-1zM1107 308h1v2h-1zM890 308h1v2h-1zM347 308h1v2h-1zM456 308h1v2h-1zM999 309h1v1h-1zM564 312h1v2h-1zM130 312h1v2h-1zM239 312h1v2h-1zM673 312h1v2h-1zM782 312h1v2h-1zM999 312h1v2h-1zM1107 312h1v2h-1zM890 312h1v2h-1zM347 312h1v2h-1zM456 312h1v2h-1zM564 316h1v2h-1zM130 316h1v2h-1zM239 316h1v2h-1zM673 316h1v2h-1zM782 316h1v2h-1zM999 316h1v2h-1zM1107 316h1v2h-1zM890 316h1v2h-1zM347 316h1v2h-1zM456 316h1v2h-1zM564 320h1v2h-1zM130 320h1v2h-1zM239 320h1v2h-1zM673 320h1v2h-1zM782 320h1v2h-1zM999 320h1v2h-1zM1107 320h1v2h-1zM890 320h1v2h-1zM347 320h1v2h-1zM456 320h1v2h-1zM564 324h1v2h-1zM130 324h1v2h-1zM239 324h1v2h-1zM673 324h1v2h-1zM782 324h1v2h-1zM999 324h1v2h-1zM1107 324h1v2h-1zM890 324h1v2h-1zM347 324h1v2h-1zM456 324h1v2h-1zM564 328h1v2h-1zM130 328h1v2h-1zM239 328h1v2h-1zM673 328h1v2h-1zM782 328h1v2h-1zM999 328h1v2h-1zM1107 328h1v2h-1zM890 328h1v2h-1zM347 328h1v2h-1zM456 328h1v2h-1zM845 331h2v1h-2zM605 331h2v1h-2zM977 331h2v1h-2zM277 331h2v1h-2zM649 331h2v1h-2zM1045 331h2v1h-2zM433 331h2v1h-2zM409 331h2v1h-2zM477 331h2v1h-2zM805 331h2v1h-2zM1005 331h2v1h-2zM237 331h2v1h-2zM981 331h2v1h-2zM501 331h2v1h-2zM873 331h2v1h-2zM1073 331h2v1h-2zM305 331h2v1h-2zM677 331h2v1h-2zM437 331h2v1h-2zM133 331h2v1h-2zM505 331h2v1h-2zM877 331h2v1h-2zM637 331h2v1h-2zM769 331h2v1h-2zM373 331h2v1h-2zM745 331h2v1h-2zM1141 331h2v1h-2zM901 331h2v1h-2zM201 331h2v1h-2zM177 331h2v1h-2zM573 331h2v1h-2zM729 331h2v1h-2zM333 331h2v1h-2zM705 331h2v1h-2zM377 331h2v1h-2zM773 331h2v1h-2zM945 331h2v1h-2zM161 331h2v1h-2zM137 331h2v1h-2zM533 331h2v1h-2zM905 331h2v1h-2zM337 331h2v1h-2zM269 331h2v1h-2zM797 331h2v1h-2zM469 331h2v1h-2zM841 331h2v1h-2zM997 331h2v1h-2zM229 331h2v1h-2zM601 331h2v1h-2zM273 331h2v1h-2zM645 331h2v1h-2zM973 331h2v1h-2zM429 331h2v1h-2zM405 331h2v1h-2zM801 331h2v1h-2zM233 331h2v1h-2zM1153 331h2v1h-2zM1065 331h2v1h-2zM669 331h2v1h-2zM1041 331h2v1h-2zM497 331h2v1h-2zM473 331h2v1h-2zM169 331h2v1h-2zM869 331h2v1h-2zM257 331h2v1h-2zM629 331h2v1h-2zM301 331h2v1h-2zM673 331h2v1h-2zM697 331h2v1h-2zM829 331h2v1h-2zM1001 331h2v1h-2zM1069 331h2v1h-2zM261 331h2v1h-2zM633 331h2v1h-2zM565 331h2v1h-2zM937 331h2v1h-2zM1093 331h2v1h-2zM765 331h2v1h-2zM369 331h2v1h-2zM741 331h2v1h-2zM1137 331h2v1h-2zM153 331h2v1h-2zM129 331h2v1h-2zM197 331h2v1h-2zM173 331h2v1h-2zM525 331h2v1h-2zM569 331h2v1h-2zM329 331h2v1h-2zM701 331h2v1h-2zM725 331h2v1h-2zM897 331h2v1h-2zM941 331h2v1h-2zM157 331h2v1h-2zM529 331h2v1h-2zM1097 331h2v1h-2zM833 331h2v1h-2zM965 331h2v1h-2zM1033 331h2v1h-2zM265 331h2v1h-2zM793 331h2v1h-2zM397 331h2v1h-2zM465 331h2v1h-2zM837 331h2v1h-2zM925 331h2v1h-2zM225 331h2v1h-2zM597 331h2v1h-2zM969 331h2v1h-2zM994 331h1v1h-1zM357 331h2v1h-2zM401 331h2v1h-2zM489 331h2v1h-2zM861 331h2v1h-2zM1061 331h2v1h-2zM293 331h2v1h-2zM665 331h2v1h-2zM1037 331h2v1h-2zM449 331h2v1h-2zM425 331h2v1h-2zM493 331h2v1h-2zM821 331h2v1h-2zM865 331h2v1h-2zM1021 331h2v1h-2zM253 331h2v1h-2zM297 331h2v1h-2zM625 331h2v1h-2zM825 331h2v1h-2zM953 331h2v1h-2zM1129 331h2v1h-2zM361 331h2v1h-2zM189 331h2v1h-2zM561 331h2v1h-2zM933 331h2v1h-2zM1089 331h2v1h-2zM321 331h2v1h-2zM693 331h2v1h-2zM365 331h2v1h-2zM737 331h2v1h-2zM761 331h2v1h-2zM149 331h2v1h-2zM125 331h2v1h-2zM521 331h2v1h-2zM893 331h2v1h-2zM1133 331h2v1h-2zM325 331h2v1h-2zM785 331h2v1h-2zM1157 331h2v1h-2zM217 331h2v1h-2zM193 331h2v1h-2zM589 331h2v1h-2zM961 331h2v1h-2zM721 331h2v1h-2zM789 331h2v1h-2zM393 331h2v1h-2zM921 331h2v1h-2zM221 331h2v1h-2zM593 331h2v1h-2zM353 331h2v1h-2zM1053 331h2v1h-2zM1029 331h2v1h-2zM485 331h2v1h-2zM461 331h2v1h-2zM857 331h2v1h-2zM1013 331h2v1h-2zM245 331h2v1h-2zM989 331h2v1h-2zM289 331h2v1h-2zM661 331h2v1h-2zM1057 331h2v1h-2zM445 331h2v1h-2zM421 331h2v1h-2zM817 331h2v1h-2zM1017 331h2v1h-2zM249 331h2v1h-2zM621 331h2v1h-2zM581 331h2v1h-2zM553 331h2v1h-2zM909 331h2v1h-2zM753 331h2v1h-2zM1125 331h2v1h-2zM513 331h2v1h-2zM885 331h2v1h-2zM185 331h2v1h-2zM557 331h2v1h-2zM929 331h2v1h-2zM713 331h2v1h-2zM317 331h2v1h-2zM689 331h2v1h-2zM1085 331h2v1h-2zM145 331h2v1h-2zM121 331h2v1h-2zM517 331h2v1h-2zM889 331h2v1h-2zM781 331h2v1h-2zM385 331h2v1h-2zM453 331h2v1h-2zM757 331h2v1h-2zM541 331h2v1h-2zM913 331h2v1h-2zM213 331h2v1h-2zM585 331h2v1h-2zM957 331h2v1h-2zM1101 331h2v1h-2zM345 331h2v1h-2zM413 331h2v1h-2zM389 331h2v1h-2zM717 331h2v1h-2zM1113 331h2v1h-2zM545 331h2v1h-2zM917 331h2v1h-2zM349 331h2v1h-2zM849 331h2v1h-2zM1049 331h2v1h-2zM281 331h2v1h-2zM653 331h2v1h-2zM1025 331h2v1h-2zM809 331h2v1h-2zM481 331h2v1h-2zM457 331h2v1h-2zM853 331h2v1h-2zM1009 331h2v1h-2zM241 331h2v1h-2zM613 331h2v1h-2zM285 331h2v1h-2zM657 331h2v1h-2zM985 331h2v1h-2zM441 331h2v1h-2zM417 331h2v1h-2zM813 331h2v1h-2zM1117 331h2v1h-2zM537 331h2v1h-2zM549 331h2v1h-2zM1077 331h2v1h-2zM309 331h2v1h-2zM681 331h2v1h-2zM749 331h2v1h-2zM1121 331h2v1h-2zM509 331h2v1h-2zM113 331h2v1h-2zM881 331h2v1h-2zM641 331h2v1h-2zM709 331h2v1h-2zM313 331h2v1h-2zM685 331h2v1h-2zM1081 331h2v1h-2zM117 331h2v1h-2zM1145 331h2v1h-2zM205 331h2v1h-2zM181 331h2v1h-2zM577 331h2v1h-2zM733 331h2v1h-2zM949 331h2v1h-2zM777 331h2v1h-2zM381 331h2v1h-2zM1105 331h2v1h-2zM1149 331h2v1h-2zM165 331h2v1h-2zM141 331h2v1h-2zM209 331h2v1h-2zM1109 331h2v1h-2zM341 331h2v1h-2zM564 332h1v2h-1zM130 332h1v2h-1zM239 332h1v2h-1zM673 332h1v2h-1zM782 332h1v2h-1zM999 332h1v2h-1zM1107 332h1v2h-1zM890 332h1v2h-1zM347 332h1v2h-1zM456 332h1v2h-1zM564 336h1v2h-1zM130 336h1v2h-1zM239 336h1v2h-1zM673 336h1v2h-1zM782 336h1v2h-1zM999 336h1v2h-1zM1107 336h1v2h-1zM890 336h1v2h-1zM347 336h1v2h-1zM456 336h1v2h-1zM564 340h1v2h-1zM130 340h1v2h-1zM239 340h1v2h-1zM673 340h1v2h-1zM782 340h1v2h-1zM999 340h1v2h-1zM1107 340h1v2h-1zM890 340h1v2h-1zM347 340h1v2h-1zM456 340h1v2h-1zM564 344h1v2h-1zM130 344h1v2h-1zM239 344h1v2h-1zM673 344h1v2h-1zM782 344h1v2h-1zM999 344h1v2h-1zM1107 344h1v2h-1zM890 344h1v2h-1zM347 344h1v2h-1zM456 344h1v2h-1zM564 348h1v2h-1zM130 348h1v2h-1zM239 348h1v2h-1zM673 348h1v2h-1zM782 348h1v2h-1zM999 348h1v2h-1zM1107 348h1v2h-1zM890 348h1v2h-1zM347 348h1v2h-1zM456 348h1v2h-1zM564 352h1v2h-1zM130 352h1v2h-1zM239 352h1v2h-1zM673 352h1v2h-1zM782 352h1v2h-1zM999 352h1v2h-1zM1107 352h1v2h-1zM890 352h1v2h-1zM347 352h1v2h-1zM456 352h1v2h-1zM564 356h1v2h-1zM130 356h1v2h-1zM239 356h1v2h-1zM673 356h1v2h-1zM782 356h1v2h-1zM999 356h1v2h-1zM1107 356h1v2h-1zM890 356h1v2h-1zM347 356h1v2h-1zM456 356h1v2h-1zM564 360h1v2h-1zM130 360h1v2h-1zM239 360h1v2h-1zM673 360h1v2h-1zM782 360h1v2h-1zM999 360h1v2h-1zM1107 360h1v2h-1zM890 360h1v2h-1zM347 360h1v2h-1zM456 360h1v2h-1z"/>
<path fill="#10e858" d="M457 83h3v7h-3zM1127 83h3v10h-3zM456 90h4v4h-4zM1126 93h4v1h-4zM456 94h5v8h-5zM140 102h3v2h-3zM139 104h4v2h-4zM231 102h3v5h-3zM138 106h5v2h-5zM348 102h3v7h-3zM137 108h6v2h-6zM230 107h4v4h-4zM1126 94h5v18h-5zM348 109h4v3h-4zM136 110h7v2h-7zM140 112h4v2h-4zM135 112h4v2h-4zM455 102h6v13h-6zM230 111h5v4h-5zM1125 112h6v3h-6zM134 114h4v2h-4zM454 115h8v2h-8zM1125 115h7v2h-7zM133 116h4v2h-4zM132 118h4v2h-4zM347 112h5v9h-5zM131 120h4v2h-4zM229 115h6v9h-6zM204 121h3v4h-3zM484 121h3v5h-3zM131 122h3v4h-3zM228 124h7v2h-7zM454 117h3v11h-3zM130 126h4v2h-4zM232 126h3v2h-3zM483 126h4v3h-4zM453 128h4v2h-4zM232 128h4v2h-4zM141 114h3v17h-3zM1125 117h3v14h-3zM347 121h6v10h-6zM203 125h5v6h-5zM228 126h3v6h-3zM141 131h4v2h-4zM346 131h7v2h-7zM1124 131h4v2h-4zM202 131h7v2h-7zM130 128h3v6h-3zM483 129h5v5h-5zM227 132h4v2h-4zM350 133h3v1h-3zM459 117h3v19h-3zM1129 117h3v19h-3zM350 134h4v2h-4zM129 134h4v2h-4zM206 133h3v4h-3zM202 133h3v4h-3zM1129 136h4v2h-4zM459 136h4v2h-4zM201 137h4v2h-4zM206 137h4v2h-4zM453 130h3v10h-3zM227 134h3v6h-3zM226 140h4v2h-4zM176 140h3v2h-3zM452 140h4v2h-4zM482 134h6v9h-6zM129 136h3v7h-3zM321 140h3v3h-3zM207 139h3v5h-3zM201 139h3v5h-3zM175 142h5v2h-5zM481 143h7v1h-7zM233 130h3v15h-3zM538 140h3v5h-3zM128 143h4v2h-4zM320 143h4v2h-4zM481 144h8v1h-8zM174 144h7v2h-7zM207 144h4v2h-4zM200 144h4v2h-4zM485 145h4v1h-4zM351 136h3v11h-3zM502 140h3v7h-3zM233 145h4v2h-4zM320 145h5v2h-5zM538 145h4v3h-4zM178 146h4v2h-4zM173 146h4v2h-4zM501 147h4v1h-4zM1163 140h1v9h-1zM226 142h3v7h-3zM351 147h4v2h-4zM142 133h3v17h-3zM346 133h3v17h-3zM1124 133h3v17h-3zM208 146h3v4h-3zM200 146h3v4h-3zM172 148h4v2h-4zM179 148h4v2h-4zM1165 140h1v11h-1zM481 145h3v6h-3zM128 145h3v6h-3zM319 147h6v4h-6zM225 149h4v2h-4zM1123 150h4v2h-4zM345 150h4v2h-4zM180 150h4v2h-4zM171 150h4v2h-4zM142 150h4v2h-4zM208 150h4v2h-4zM199 150h4v2h-4zM452 142h3v11h-3zM480 151h4v2h-4zM127 151h4v2h-4zM318 151h7v2h-7zM181 152h4v2h-4zM170 152h4v2h-4zM537 148h5v7h-5zM322 153h4v2h-4zM318 153h3v2h-3zM451 153h4v2h-4zM199 152h3v4h-3zM209 152h3v4h-3zM169 154h4v2h-4zM182 154h4v2h-4zM460 138h3v19h-3zM1130 138h3v19h-3zM225 151h3v6h-3zM317 155h4v2h-4zM486 146h3v12h-3zM183 156h4v2h-4zM198 156h4v2h-4zM209 156h4v2h-4zM168 156h4v2h-4zM501 148h5v11h-5zM352 149h3v10h-3zM480 153h3v6h-3zM127 153h3v6h-3zM460 157h4v2h-4zM224 157h4v2h-4zM317 157h3v2h-3zM1130 157h4v2h-4zM167 158h4v1h-4zM486 158h4v2h-4zM184 158h4v2h-4zM158 159h13v1h-13zM106 159h1v2h-1zM126 159h4v2h-4zM352 159h4v2h-4zM479 159h4v2h-4zM316 159h4v2h-4zM234 147h3v15h-3zM323 155h3v7h-3zM267 159h3v3h-3zM158 160h12v2h-12zM185 160h4v2h-4zM537 155h6v8h-6zM210 158h3v5h-3zM198 158h3v5h-3zM104 159h1v4h-1zM765 159h3v4h-3zM500 159h6v4h-6zM106 161h2v2h-2zM1082 159h3v5h-3zM316 161h3v3h-3zM234 162h4v2h-4zM323 162h4v2h-4zM186 162h4v2h-4zM764 163h4v1h-4zM536 163h7v1h-7zM864 159h3v6h-3zM266 162h4v3h-4zM500 163h7v2h-7zM106 163h3v2h-3zM197 163h4v2h-4zM210 163h4v2h-4zM536 164h8v1h-8zM1162 149h2v17h-2zM451 155h3v11h-3zM224 159h3v7h-3zM158 162h3v4h-3zM315 164h4v2h-4zM187 164h4v2h-4zM1082 164h4v2h-4zM266 165h5v1h-5zM540 165h4v1h-4zM106 165h4v2h-4zM126 161h3v7h-3zM479 161h3v7h-3zM864 165h4v3h-4zM315 166h3v2h-3zM450 166h4v2h-4zM188 166h4v2h-4zM157 166h4v2h-4zM223 166h4v2h-4zM1123 152h3v17h-3zM143 152h3v17h-3zM345 152h3v17h-3zM764 164h5v5h-5zM197 165h3v4h-3zM211 165h3v4h-3zM107 167h4v2h-4zM324 164h3v6h-3zM265 166h6v4h-6zM478 168h4v2h-4zM189 168h4v2h-4zM125 168h4v2h-4zM314 168h4v2h-4zM108 169h4v2h-4zM143 169h4v2h-4zM196 169h4v2h-4zM211 169h4v2h-4zM1122 169h4v2h-4zM344 169h4v2h-4zM353 161h3v11h-3zM500 165h3v7h-3zM1081 166h5v6h-5zM763 169h6v3h-6zM314 170h3v2h-3zM324 170h4v2h-4zM264 170h7v2h-7zM190 170h4v2h-4zM487 160h3v13h-3zM109 171h4v2h-4zM541 166h3v8h-3zM223 168h3v6h-3zM196 171h3v3h-3zM313 172h4v2h-4zM191 172h4v2h-4zM763 172h7v2h-7zM499 172h4v2h-4zM264 172h3v2h-3zM353 172h4v2h-4zM863 168h5v7h-5zM212 171h3v4h-3zM268 172h3v3h-3zM487 173h4v2h-4zM110 173h4v2h-4zM763 174h3v1h-3zM125 170h3v6h-3zM478 170h3v6h-3zM192 174h7v2h-7zM541 174h4v2h-4zM313 174h3v2h-3zM222 174h4v2h-4zM263 174h4v2h-4zM536 165h3v12h-3zM504 165h3v12h-3zM762 175h4v2h-4zM268 175h4v2h-4zM111 175h4v2h-4zM212 175h4v2h-4zM193 176h6v1h-6zM461 159h3v19h-3zM1131 159h3v19h-3zM235 164h3v14h-3zM450 168h3v10h-3zM157 168h3v10h-3zM325 172h3v6h-3zM263 176h3v2h-3zM477 176h4v2h-4zM312 176h4v2h-4zM222 176h3v2h-3zM124 176h4v2h-4zM193 177h5v1h-5zM213 177h3v1h-3zM1081 172h6v7h-6zM535 177h4v2h-4zM504 177h4v2h-4zM112 177h4v2h-4zM194 178h4v2h-4zM449 178h4v2h-4zM262 178h4v2h-4zM1131 178h4v2h-4zM156 178h4v2h-4zM235 178h4v2h-4zM325 178h4v2h-4zM461 178h4v2h-4zM113 179h3v1h-3zM767 174h3v7h-3zM919 178h12v3h-12zM593 178h3v3h-3zM656 178h3v3h-3zM213 178h12v3h-12zM1080 179h7v2h-7zM195 180h3v1h-3zM762 177h3v5h-3zM1027 178h3v4h-3zM312 178h3v4h-3zM113 180h4v2h-4zM593 181h4v1h-4zM1161 166h3v17h-3zM542 176h3v7h-3zM262 180h3v3h-3zM919 181h3v2h-3zM656 181h4v2h-4zM1084 181h4v2h-4zM767 181h4v2h-4zM1026 182h4v1h-4zM928 181h3v3h-3zM114 182h4v2h-4zM761 182h4v2h-4zM311 182h4v2h-4zM499 174h3v11h-3zM354 174h3v11h-3zM863 175h6v10h-6zM124 178h3v7h-3zM477 178h3v7h-3zM592 182h5v3h-5zM542 183h4v2h-4zM918 183h4v2h-4zM1160 183h4v2h-4zM655 183h5v2h-5zM261 183h4v2h-4zM269 177h3v9h-3zM928 184h4v2h-4zM115 184h4v2h-4zM862 185h7v1h-7zM326 180h3v7h-3zM261 185h3v2h-3zM476 185h4v2h-4zM498 185h4v2h-4zM123 185h4v2h-4zM354 185h4v2h-4zM862 186h8v1h-8zM144 171h3v17h-3zM344 171h3v17h-3zM1122 171h3v17h-3zM488 175h3v13h-3zM1026 183h5v5h-5zM311 184h3v4h-3zM761 184h3v4h-3zM592 185h6v3h-6zM116 186h4v2h-4zM269 186h4v2h-4zM866 187h4v1h-4zM1085 183h3v6h-3zM768 183h3v6h-3zM655 185h6v4h-6zM260 187h4v2h-4zM326 187h4v2h-4zM591 188h7v1h-7zM760 188h4v2h-4zM117 188h4v2h-4zM310 188h4v2h-4zM343 188h4v2h-4zM488 188h4v2h-4zM1121 188h4v2h-4zM144 188h4v2h-4zM591 189h8v1h-8zM449 180h3v11h-3zM156 180h3v11h-3zM918 185h3v6h-3zM1025 188h6v3h-6zM1085 189h4v2h-4zM768 189h4v2h-4zM260 189h3v2h-3zM655 189h7v2h-7zM595 190h4v1h-4zM505 179h3v13h-3zM535 179h3v13h-3zM123 187h3v5h-3zM118 190h4v2h-4zM1080 181h3v12h-3zM543 185h3v8h-3zM476 187h3v6h-3zM654 191h4v2h-4zM659 191h3v2h-3zM917 191h4v2h-4zM1025 191h7v2h-7zM259 191h4v2h-4zM448 191h4v2h-4zM155 191h4v2h-4zM596 191h3v2h-3zM929 186h3v8h-3zM591 190h3v4h-3zM760 190h3v4h-3zM310 190h3v4h-3zM119 192h7v2h-7zM534 192h4v2h-4zM505 192h4v2h-4zM1025 193h3v1h-3zM236 180h3v15h-3zM327 189h3v6h-3zM1079 193h4v2h-4zM475 193h4v2h-4zM596 193h4v2h-4zM543 193h4v2h-4zM659 193h4v2h-4zM259 193h3v2h-3zM120 194h6v1h-6zM867 188h3v8h-3zM270 188h3v8h-3zM1024 194h4v2h-4zM929 194h4v2h-4zM590 194h4v2h-4zM759 194h4v2h-4zM309 194h4v2h-4zM120 195h5v1h-5zM498 187h3v10h-3zM355 187h3v10h-3zM1086 191h3v6h-3zM769 191h3v6h-3zM236 195h4v2h-4zM258 195h4v2h-4zM597 195h3v2h-3zM327 195h4v2h-4zM660 195h3v2h-3zM867 196h4v2h-4zM121 196h4v2h-4zM270 196h4v2h-4zM769 197h4v2h-4zM355 197h4v2h-4zM597 197h4v2h-4zM660 197h4v2h-4zM497 197h4v2h-4zM1086 197h4v2h-4zM366 197h13v2h-13zM1132 180h3v20h-3zM462 180h3v20h-3zM1160 185h3v15h-3zM917 193h3v7h-3zM1029 193h3v7h-3zM654 193h3v7h-3zM1009 197h3v3h-3zM575 197h3v3h-3zM258 197h3v3h-3zM783 197h3v3h-3zM122 198h3v2h-3zM365 199h14v1h-14zM309 196h3v5h-3zM1024 196h3v5h-3zM590 196h3v5h-3zM759 196h3v5h-3zM365 200h4v1h-4zM862 187h3v15h-3zM544 195h3v7h-3zM475 195h3v7h-3zM661 199h3v3h-3zM598 199h3v3h-3zM1132 200h4v2h-4zM916 200h4v2h-4zM575 200h4v2h-4zM462 200h4v2h-4zM257 200h4v2h-4zM653 200h4v2h-4zM1159 200h4v2h-4zM1029 200h4v2h-4zM376 200h3v2h-3zM489 190h3v13h-3zM448 193h3v10h-3zM1009 200h4v3h-4zM782 200h4v3h-4zM364 201h4v2h-4zM308 201h4v2h-4zM1023 201h4v2h-4zM589 201h4v2h-4zM758 201h4v2h-4zM155 193h3v11h-3zM328 197h3v7h-3zM861 202h4v2h-4zM574 202h5v2h-5zM544 202h4v2h-4zM376 202h4v2h-4zM598 202h4v2h-4zM257 202h3v2h-3zM661 202h4v2h-4zM474 202h4v2h-4zM782 203h5v1h-5zM1008 203h5v1h-5zM930 196h3v9h-3zM489 203h4v2h-4zM447 203h4v2h-4zM363 203h4v2h-4zM1079 195h3v11h-3zM1087 199h3v7h-3zM770 199h3v7h-3zM328 204h4v2h-4zM154 204h4v2h-4zM599 204h3v2h-3zM662 204h3v2h-3zM256 204h4v2h-4zM1121 190h3v17h-3zM145 190h3v17h-3zM343 190h3v17h-3zM534 194h3v13h-3zM506 194h3v13h-3zM868 198h3v9h-3zM271 198h3v9h-3zM589 203h3v4h-3zM758 203h3v4h-3zM308 203h3v4h-3zM1023 203h3v4h-3zM930 205h4v2h-4zM362 205h4v2h-4zM916 202h3v6h-3zM1030 202h3v6h-3zM653 202h3v6h-3zM1008 204h6v4h-6zM574 204h6v4h-6zM781 204h6v4h-6zM599 206h4v2h-4zM256 206h3v2h-3zM1087 206h4v2h-4zM770 206h4v2h-4zM662 206h4v2h-4zM1078 206h4v2h-4zM588 207h4v2h-4zM271 207h4v2h-4zM533 207h4v2h-4zM361 207h4v2h-4zM757 207h4v2h-4zM145 207h4v2h-4zM506 207h4v2h-4zM1120 207h4v2h-4zM307 207h4v2h-4zM868 207h4v2h-4zM342 207h4v2h-4zM1022 207h4v2h-4zM356 199h3v11h-3zM497 199h3v11h-3zM474 204h3v6h-3zM377 204h3v6h-3zM600 208h3v2h-3zM652 208h4v2h-4zM1008 208h7v2h-7zM1030 208h4v2h-4zM574 208h7v2h-7zM663 208h3v2h-3zM255 208h4v2h-4zM915 208h4v2h-4zM780 208h7v2h-7zM360 209h4v1h-4zM356 210h8v1h-8zM237 197h3v15h-3zM545 204h3v8h-3zM329 206h3v6h-3zM578 210h3v2h-3zM573 210h4v2h-4zM663 210h4v2h-4zM780 210h3v2h-3zM473 210h4v2h-4zM600 210h4v2h-4zM1012 210h3v2h-3zM255 210h3v2h-3zM496 210h4v2h-4zM377 210h4v2h-4zM356 211h7v1h-7zM447 205h3v8h-3zM307 209h3v4h-3zM1022 209h3v4h-3zM588 209h3v4h-3zM757 209h3v4h-3zM784 210h3v3h-3zM1008 210h3v3h-3zM357 212h6v1h-6zM771 208h3v6h-3zM1088 208h3v6h-3zM779 212h4v2h-4zM1012 212h4v2h-4zM545 212h4v2h-4zM578 212h4v2h-4zM237 212h4v2h-4zM601 212h3v2h-3zM329 212h4v2h-4zM254 212h4v2h-4zM664 212h3v2h-3zM931 207h3v8h-3zM784 213h4v2h-4zM306 213h4v2h-4zM1021 213h4v2h-4zM587 213h4v2h-4zM446 213h4v2h-4zM357 213h5v2h-5zM1007 213h4v2h-4zM756 213h4v2h-4zM1159 202h3v14h-3zM154 206h3v10h-3zM1031 210h3v6h-3zM652 210h3v6h-3zM915 210h3v6h-3zM254 214h3v2h-3zM601 214h4v2h-4zM1013 214h3v2h-3zM579 214h3v2h-3zM664 214h4v2h-4zM779 214h3v2h-3zM1088 214h4v2h-4zM771 214h4v2h-4zM357 215h4v2h-4zM931 215h4v2h-4zM490 205h3v13h-3zM272 209h3v9h-3zM869 209h3v9h-3zM914 216h4v2h-4zM1013 216h4v2h-4zM1158 216h4v2h-4zM579 216h4v2h-4zM253 216h4v2h-4zM651 216h4v2h-4zM153 216h4v2h-4zM778 216h4v2h-4zM1031 216h4v2h-4zM861 204h3v15h-3zM1078 208h3v11h-3zM573 212h3v7h-3zM473 212h3v7h-3zM378 212h3v7h-3zM357 217h3v2h-3zM330 214h3v6h-3zM306 215h3v5h-3zM1021 215h3v5h-3zM587 215h3v5h-3zM692 216h3v4h-3zM665 216h3v4h-3zM869 218h4v2h-4zM490 218h4v2h-4zM272 218h4v2h-4zM463 202h3v19h-3zM1133 202h3v19h-3zM546 214h3v7h-3zM756 215h3v6h-3zM778 218h3v3h-3zM580 218h3v3h-3zM253 218h3v3h-3zM1014 218h3v3h-3zM1077 219h4v2h-4zM572 219h4v2h-4zM378 219h4v2h-4zM860 219h4v2h-4zM472 219h4v2h-4zM692 220h4v1h-4zM507 209h3v13h-3zM533 209h3v13h-3zM665 220h4v2h-4zM330 220h4v2h-4zM305 220h4v2h-4zM1020 220h4v2h-4zM586 220h4v2h-4zM496 212h3v11h-3zM772 216h3v7h-3zM1089 216h3v7h-3zM546 221h4v2h-4zM755 221h4v2h-4zM777 221h4v2h-4zM1133 221h4v2h-4zM1014 221h4v2h-4zM252 221h4v2h-4zM580 221h4v2h-4zM463 221h4v2h-4zM1007 215h3v9h-3zM785 215h3v9h-3zM446 215h3v9h-3zM532 222h4v2h-4zM507 222h4v2h-4zM602 216h3v9h-3zM914 218h3v7h-3zM1032 218h3v7h-3zM651 218h3v7h-3zM252 223h3v2h-3zM495 223h4v2h-4zM1015 223h3v2h-3zM1089 223h4v2h-4zM772 223h4v2h-4zM777 223h3v2h-3zM581 223h3v2h-3zM342 209h3v17h-3zM146 209h3v17h-3zM1120 209h3v17h-3zM932 217h3v9h-3zM691 221h5v5h-5zM305 222h3v4h-3zM1020 222h3v4h-3zM331 222h3v4h-3zM586 222h3v4h-3zM666 222h3v4h-3zM445 224h4v2h-4zM1006 224h4v2h-4zM785 224h4v2h-4zM1015 225h4v1h-4zM581 225h4v1h-4zM472 221h3v6h-3zM379 221h3v6h-3zM572 221h3v6h-3zM773 225h7v2h-7zM251 225h4v2h-4zM913 225h4v2h-4zM1032 225h4v2h-4zM602 225h4v2h-4zM650 225h4v2h-4zM581 226h8v1h-8zM1015 226h8v1h-8zM870 220h3v8h-3zM273 220h3v8h-3zM146 226h4v2h-4zM304 226h4v2h-4zM341 226h4v2h-4zM666 226h4v2h-4zM932 226h4v2h-4zM331 226h4v2h-4zM1119 226h4v2h-4zM1016 227h7v1h-7zM582 227h7v1h-7zM238 214h3v15h-3zM153 218h3v11h-3zM755 223h3v6h-3zM691 226h6v3h-6zM379 227h4v2h-4zM471 227h4v2h-4zM251 227h3v2h-3zM571 227h4v2h-4zM273 228h4v2h-4zM870 228h4v2h-4zM547 223h3v8h-3zM1090 225h3v6h-3zM773 227h6v4h-6zM1016 228h6v3h-6zM582 228h6v3h-6zM238 229h4v2h-4zM152 229h4v2h-4zM754 229h4v2h-4zM250 229h4v2h-4zM690 229h7v2h-7zM491 220h3v12h-3zM495 225h3v7h-3zM304 228h3v4h-3zM667 228h3v4h-3zM332 228h3v4h-3zM694 231h3v1h-3zM1158 218h3v15h-3zM1077 221h3v12h-3zM650 227h3v6h-3zM1033 227h3v6h-3zM913 227h3v6h-3zM250 231h3v2h-3zM1090 231h4v2h-4zM773 231h5v2h-5zM547 231h4v2h-4zM445 226h3v8h-3zM786 226h3v8h-3zM1006 226h3v8h-3zM583 231h5v3h-5zM1017 231h5v3h-5zM694 232h4v2h-4zM491 232h7v2h-7zM667 232h4v2h-4zM332 232h4v2h-4zM303 232h4v2h-4zM860 221h3v14h-3zM380 229h3v6h-3zM571 229h3v6h-3zM471 229h3v6h-3zM249 233h4v2h-4zM1091 233h3v2h-3zM649 233h4v2h-4zM1076 233h4v2h-4zM548 233h3v2h-3zM1157 233h4v2h-4zM774 233h4v2h-4zM912 233h4v2h-4zM1033 233h4v2h-4zM1017 234h4v1h-4zM583 234h4v1h-4zM303 234h3v1h-3zM786 234h4v2h-4zM444 234h4v2h-4zM1005 234h4v2h-4zM508 224h3v13h-3zM532 224h3v13h-3zM933 228h3v9h-3zM492 234h6v3h-6zM859 235h4v2h-4zM285 235h21v2h-21zM901 235h3v2h-3zM570 235h4v2h-4zM729 235h3v2h-3zM249 235h3v2h-3zM819 235h3v2h-3zM380 235h4v2h-4zM470 235h4v2h-4zM1091 235h12v2h-12zM754 231h3v7h-3zM690 231h3v7h-3zM1018 235h3v3h-3zM584 235h3v3h-3zM548 235h12v3h-12zM774 235h3v3h-3zM819 237h4v1h-4zM284 237h22v1h-22zM1091 237h13v1h-13zM901 237h4v1h-4zM274 230h3v9h-3zM871 230h3v9h-3zM668 234h3v5h-3zM333 234h3v5h-3zM695 234h3v5h-3zM973 235h3v4h-3zM531 237h4v2h-4zM933 237h4v2h-4zM508 237h4v2h-4zM728 237h4v2h-4zM248 237h4v2h-4zM900 238h5v1h-5zM818 238h5v1h-5zM284 238h4v1h-4zM1100 238h4v1h-4zM557 238h4v2h-4zM753 238h4v2h-4zM689 238h4v2h-4zM818 239h6v2h-6zM728 239h5v2h-5zM1101 239h4v2h-4zM247 239h4v2h-4zM695 239h4v2h-4zM871 239h4v2h-4zM283 239h4v2h-4zM900 239h6v2h-6zM668 239h4v2h-4zM274 239h4v2h-4zM333 239h4v2h-4zM1134 223h3v19h-3zM464 223h3v19h-3zM603 227h3v15h-3zM152 231h3v11h-3zM912 235h3v7h-3zM1034 235h3v7h-3zM649 235h3v7h-3zM558 240h3v2h-3zM818 241h7v1h-7zM282 241h4v2h-4zM900 241h7v2h-7zM246 241h4v2h-4zM1102 241h4v2h-4zM817 242h8v1h-8zM470 237h3v7h-3zM381 237h3v7h-3zM570 237h3v7h-3zM1134 242h4v2h-4zM603 242h4v2h-4zM1034 242h4v2h-4zM911 242h4v2h-4zM464 242h4v2h-4zM558 242h4v2h-4zM151 242h4v2h-4zM648 242h4v2h-4zM817 243h4v1h-4zM900 243h3v1h-3zM1119 228h3v17h-3zM341 228h3v17h-3zM147 228h3v17h-3zM787 236h3v9h-3zM444 236h3v9h-3zM1005 236h3v9h-3zM972 239h5v6h-5zM696 241h3v4h-3zM727 241h6v4h-6zM669 241h3v4h-3zM334 241h3v4h-3zM1103 243h4v2h-4zM904 243h4v2h-4zM281 243h4v2h-4zM822 243h4v2h-4zM245 243h4v2h-4zM151 244h3v1h-3zM239 231h3v15h-3zM1076 235h3v11h-3zM753 240h3v6h-3zM689 240h3v6h-3zM381 244h4v2h-4zM469 244h4v2h-4zM817 244h3v2h-3zM569 244h4v2h-4zM559 244h3v2h-3zM899 244h4v2h-4zM934 239h3v8h-3zM726 245h8v2h-8zM443 245h4v2h-4zM696 245h4v2h-4zM905 245h4v2h-4zM1004 245h4v2h-4zM280 245h4v2h-4zM971 245h7v2h-7zM669 245h4v2h-4zM1118 245h4v2h-4zM823 245h4v2h-4zM244 245h4v2h-4zM334 245h4v2h-4zM1104 245h4v2h-4zM147 245h7v2h-7zM787 245h4v2h-4zM340 245h4v2h-4zM239 246h4v1h-4zM559 246h4v2h-4zM816 246h4v2h-4zM752 246h4v2h-4zM688 246h4v2h-4zM1075 246h4v2h-4zM239 247h8v1h-8zM492 237h5v12h-5zM872 241h3v8h-3zM275 241h3v8h-3zM911 244h3v5h-3zM1105 247h4v2h-4zM279 247h4v2h-4zM906 247h4v2h-4zM726 247h3v2h-3zM934 247h4v2h-4zM824 247h4v2h-4zM240 248h7v1h-7zM1157 235h3v15h-3zM648 244h3v6h-3zM1035 244h3v6h-3zM899 246h3v4h-3zM560 248h3v2h-3zM816 248h3v2h-3zM493 249h4v1h-4zM509 239h3v12h-3zM531 239h3v12h-3zM670 247h3v4h-3zM335 247h3v4h-3zM971 247h3v4h-3zM731 247h3v4h-3zM975 247h3v4h-3zM697 247h3v4h-3zM872 249h4v2h-4zM907 249h7v2h-7zM275 249h7v2h-7zM825 249h4v2h-4zM240 249h6v2h-6zM1106 249h4v2h-4zM725 249h4v2h-4zM859 237h3v15h-3zM465 244h3v8h-3zM382 246h3v6h-3zM569 246h3v6h-3zM469 246h3v6h-3zM1156 250h4v2h-4zM815 250h4v2h-4zM1035 250h4v2h-4zM898 250h4v2h-4zM647 250h4v2h-4zM560 250h4v2h-4zM908 251h6v1h-6zM826 251h4v2h-4zM509 251h4v2h-4zM725 251h3v2h-3zM731 251h4v2h-4zM975 251h4v2h-4zM1107 251h4v2h-4zM970 251h4v2h-4zM276 251h5v2h-5zM530 251h4v2h-4zM697 251h4v2h-4zM335 251h4v2h-4zM240 251h5v2h-5zM670 251h4v2h-4zM908 252h5v1h-5zM1118 247h3v7h-3zM752 248h3v6h-3zM688 248h3v6h-3zM568 252h4v2h-4zM858 252h4v2h-4zM815 252h3v2h-3zM382 252h4v2h-4zM561 252h3v2h-3zM465 252h7v2h-7zM1108 253h4v1h-4zM898 252h3v3h-3zM240 253h4v2h-4zM909 253h4v2h-4zM724 253h4v2h-4zM827 253h4v2h-4zM276 253h4v2h-4zM1108 254h13v1h-13zM148 247h6v9h-6zM443 247h3v9h-3zM1004 247h3v9h-3zM788 247h3v9h-3zM751 254h4v2h-4zM687 254h4v2h-4zM710 254h3v2h-3zM561 254h4v2h-4zM814 254h4v2h-4zM946 254h3v2h-3zM724 255h3v1h-3zM493 250h3v7h-3zM873 251h3v6h-3zM647 252h3v5h-3zM1036 252h3v5h-3zM430 254h3v3h-3zM1054 254h3v3h-3zM910 255h3v2h-3zM276 255h3v2h-3zM897 255h4v2h-4zM828 255h3v2h-3zM1109 255h12v2h-12zM240 255h3v2h-3zM340 247h3v11h-3zM935 249h3v9h-3zM336 253h3v5h-3zM976 253h3v5h-3zM698 253h3v5h-3zM671 253h3v5h-3zM970 253h3v5h-3zM732 253h3v5h-3zM788 256h4v2h-4zM442 256h4v2h-4zM945 256h5v2h-5zM1003 256h4v2h-4zM709 256h5v2h-5zM723 256h4v2h-4zM604 244h3v15h-3zM1075 248h3v11h-3zM562 256h3v3h-3zM814 256h3v3h-3zM873 257h4v2h-4zM1036 257h4v2h-4zM646 257h4v2h-4zM828 257h4v2h-4zM969 258h4v2h-4zM723 258h3v2h-3zM698 258h4v2h-4zM671 258h4v2h-4zM944 258h7v2h-7zM935 258h4v2h-4zM336 258h7v2h-7zM708 258h7v2h-7zM732 258h4v2h-4zM976 258h4v2h-4zM568 254h3v7h-3zM383 254h3v7h-3zM429 257h5v4h-5zM897 257h3v4h-3zM1053 257h5v4h-5zM646 259h3v2h-3zM1074 259h4v2h-4zM1037 259h3v2h-3zM874 259h3v2h-3zM604 259h4v2h-4zM562 259h4v2h-4zM813 259h4v2h-4zM829 259h3v2h-3zM722 260h4v2h-4zM948 260h4v2h-4zM712 260h4v2h-4zM943 260h4v2h-4zM707 260h4v2h-4zM1135 244h3v19h-3zM465 254h6v9h-6zM751 256h3v7h-3zM687 256h3v7h-3zM874 261h4v2h-4zM896 261h4v2h-4zM1037 261h4v2h-4zM645 261h4v2h-4zM813 261h3v2h-3zM383 261h4v2h-4zM1052 261h7v2h-7zM567 261h4v2h-4zM829 261h4v2h-4zM428 261h7v2h-7zM563 261h3v2h-3zM672 260h3v4h-3zM969 260h3v4h-3zM733 260h3v4h-3zM977 260h3v4h-3zM699 260h3v4h-3zM949 262h4v2h-4zM942 262h4v2h-4zM713 262h4v2h-4zM706 262h4v2h-4zM722 262h3v2h-3zM875 263h3v2h-3zM428 263h3v2h-3zM432 263h3v2h-3zM812 263h4v2h-4zM645 263h3v2h-3zM830 263h3v2h-3zM563 263h7v2h-7zM750 263h4v2h-4zM465 263h5v2h-5zM1135 263h4v2h-4zM686 263h4v2h-4zM1052 263h3v2h-3zM1056 263h3v2h-3zM1038 263h3v2h-3zM530 253h3v13h-3zM510 253h3v13h-3zM148 256h5v10h-5zM789 258h3v8h-3zM442 258h3v8h-3zM1003 258h3v8h-3zM337 260h6v6h-6zM672 264h4v2h-4zM705 264h4v2h-4zM733 264h4v2h-4zM977 264h4v2h-4zM968 264h4v2h-4zM950 264h4v2h-4zM699 264h4v2h-4zM721 264h4v2h-4zM941 264h4v2h-4zM714 264h4v2h-4zM1156 252h3v15h-3zM896 263h3v4h-3zM830 265h4v2h-4zM427 265h4v2h-4zM1056 265h4v2h-4zM875 265h4v2h-4zM812 265h3v2h-3zM1038 265h4v2h-4zM644 265h4v2h-4zM1051 265h4v2h-4zM432 265h4v2h-4zM936 260h3v8h-3zM1002 266h4v2h-4zM951 266h4v2h-4zM529 266h4v2h-4zM940 266h4v2h-4zM704 266h4v2h-4zM700 266h3v2h-3zM715 266h4v2h-4zM510 266h4v2h-4zM789 266h4v2h-4zM441 266h4v2h-4zM721 266h3v2h-3zM858 254h3v15h-3zM384 263h3v6h-3zM564 265h6v4h-6zM149 266h4v3h-4zM831 267h3v2h-3zM644 267h3v2h-3zM1051 267h3v2h-3zM1057 267h3v2h-3zM433 267h3v2h-3zM427 267h3v2h-3zM1155 267h4v2h-4zM895 267h4v2h-4zM1039 267h3v2h-3zM876 267h3v2h-3zM811 267h4v2h-4zM734 266h3v4h-3zM968 266h3v4h-3zM978 266h3v4h-3zM673 266h3v4h-3zM936 268h7v2h-7zM700 268h7v2h-7zM716 268h8v2h-8zM952 268h4v2h-4zM466 265h4v6h-4zM750 265h3v6h-3zM686 265h3v6h-3zM857 269h4v2h-4zM1057 269h4v2h-4zM643 269h4v2h-4zM565 269h5v2h-5zM811 269h3v2h-3zM1050 269h4v2h-4zM876 269h4v2h-4zM1039 269h4v2h-4zM433 269h4v2h-4zM426 269h4v2h-4zM831 269h4v2h-4zM384 269h4v2h-4zM338 266h4v6h-4zM978 270h4v2h-4zM937 270h5v2h-5zM953 270h4v2h-4zM700 270h6v2h-6zM673 270h4v2h-4zM734 270h4v2h-4zM967 270h4v2h-4zM717 270h6v2h-6zM1074 261h3v12h-3zM529 268h3v5h-3zM511 268h3v5h-3zM895 269h3v4h-3zM1058 271h3v2h-3zM685 271h4v2h-4zM1040 271h3v2h-3zM426 271h3v2h-3zM877 271h3v2h-3zM810 271h4v2h-4zM434 271h3v2h-3zM565 271h4v2h-4zM1050 271h3v2h-3zM643 271h3v2h-3zM832 271h3v2h-3zM385 271h3v2h-3zM749 271h4v2h-4zM937 272h4v2h-4zM718 272h5v2h-5zM701 272h4v2h-4zM954 272h4v2h-4zM1136 265h3v10h-3zM674 272h3v3h-3zM894 273h4v2h-4zM434 273h4v2h-4zM832 273h4v2h-4zM425 273h4v2h-4zM642 273h4v2h-4zM1058 273h4v2h-4zM801 273h12v2h-12zM629 273h3v2h-3zM1049 273h4v2h-4zM877 273h4v2h-4zM1040 273h4v2h-4zM1073 273h4v2h-4zM955 274h3v1h-3zM605 261h3v15h-3zM149 269h3v7h-3zM466 271h3v5h-3zM339 272h3v4h-3zM566 273h3v3h-3zM511 273h21v3h-21zM385 273h21v3h-21zM701 274h3v2h-3zM719 274h3v2h-3zM937 274h3v2h-3zM800 275h13v1h-13zM441 268h3v9h-3zM1002 268h3v9h-3zM790 268h3v9h-3zM967 272h3v5h-3zM735 272h3v5h-3zM979 272h3v5h-3zM1136 275h4v2h-4zM955 275h4v2h-4zM628 275h5v2h-5zM674 275h4v2h-4zM800 276h4v1h-4zM1049 275h3v3h-3zM435 275h3v3h-3zM833 275h3v3h-3zM1059 275h3v3h-3zM425 275h3v3h-3zM894 275h3v3h-3zM1041 275h3v3h-3zM878 275h3v3h-3zM642 275h3v3h-3zM403 276h4v2h-4zM605 276h4v2h-4zM956 277h4v2h-4zM799 277h4v2h-4zM735 277h4v2h-4zM440 277h4v2h-4zM790 277h4v2h-4zM966 277h4v2h-4zM979 277h4v2h-4zM627 277h7v2h-7zM1001 277h4v2h-4zM675 277h4v2h-4zM1137 277h4v2h-4zM749 273h3v7h-3zM685 273h3v7h-3zM404 278h3v2h-3zM641 278h4v2h-4zM1048 278h4v2h-4zM1059 278h4v2h-4zM1041 278h4v2h-4zM878 278h4v2h-4zM893 278h4v2h-4zM424 278h4v2h-4zM435 278h4v2h-4zM833 278h4v2h-4zM676 279h4v2h-4zM1138 279h4v2h-4zM957 279h4v2h-4zM631 279h4v2h-4zM798 279h4v2h-4zM626 279h4v2h-4zM440 279h3v3h-3zM1042 280h3v2h-3zM879 280h3v2h-3zM641 280h3v2h-3zM1048 280h3v2h-3zM436 280h3v2h-3zM748 280h4v2h-4zM684 280h4v2h-4zM404 280h4v2h-4zM834 280h3v2h-3zM424 280h3v2h-3zM1060 280h3v2h-3zM736 279h3v4h-3zM980 279h3v4h-3zM966 279h3v4h-3zM632 281h4v2h-4zM797 281h4v2h-4zM958 281h4v2h-4zM625 281h4v2h-4zM677 281h4v2h-4zM1139 281h4v2h-4zM1155 269h3v15h-3zM893 280h3v4h-3zM423 282h4v2h-4zM436 282h7v2h-7zM834 282h4v2h-4zM640 282h4v2h-4zM1047 282h4v2h-4zM1060 282h4v2h-4zM405 282h3v2h-3zM879 282h4v2h-4zM1042 282h4v2h-4zM980 283h4v2h-4zM678 283h4v2h-4zM1140 283h4v2h-4zM959 283h4v2h-4zM633 283h4v2h-4zM796 283h4v2h-4zM624 283h4v2h-4zM965 283h4v2h-4zM736 283h4v2h-4zM857 271h3v15h-3zM1073 275h3v11h-3zM892 284h4v2h-4zM835 284h3v2h-3zM423 284h3v2h-3zM405 284h4v2h-4zM1061 284h3v2h-3zM1043 284h3v2h-3zM640 284h3v2h-3zM880 284h3v2h-3zM1154 284h4v2h-4zM1047 284h3v2h-3zM791 279h3v8h-3zM1001 279h3v8h-3zM684 282h3v5h-3zM960 285h4v2h-4zM795 285h4v2h-4zM965 285h3v2h-3zM623 285h4v2h-4zM634 285h4v2h-4zM679 285h4v2h-4zM1141 285h4v2h-4zM639 286h4v1h-4zM748 282h3v6h-3zM437 284h6v4h-6zM406 286h3v2h-3zM1061 286h4v2h-4zM1072 286h4v2h-4zM856 286h4v2h-4zM1043 286h7v2h-7zM880 286h4v2h-4zM422 286h4v2h-4zM835 286h4v2h-4zM635 287h8v1h-8zM737 285h3v4h-3zM981 285h3v4h-3zM1142 287h4v2h-4zM680 287h7v2h-7zM622 287h4v2h-4zM961 287h7v2h-7zM791 287h7v2h-7zM1000 287h4v2h-4zM438 288h5v1h-5zM635 288h7v1h-7zM892 286h3v4h-3zM1062 288h3v2h-3zM881 288h3v2h-3zM406 288h4v2h-4zM836 288h3v2h-3zM747 288h4v2h-4zM422 288h3v2h-3zM681 289h6v1h-6zM792 289h5v2h-5zM621 289h4v2h-4zM737 289h4v2h-4zM962 289h6v2h-6zM636 289h6v2h-6zM981 289h4v2h-4zM1143 289h4v2h-4zM681 290h5v1h-5zM606 278h3v14h-3zM1154 286h3v6h-3zM1072 288h3v4h-3zM1044 288h5v4h-5zM438 289h4v3h-4zM881 290h4v2h-4zM421 290h4v2h-4zM747 290h3v2h-3zM891 290h4v2h-4zM836 290h4v2h-4zM407 290h3v2h-3zM1062 290h4v2h-4zM738 291h3v1h-3zM637 291h5v1h-5zM1144 291h4v1h-4zM682 291h4v2h-4zM792 291h4v2h-4zM620 291h4v2h-4zM963 291h4v2h-4zM1144 292h13v1h-13zM637 292h4v1h-4zM606 292h4v2h-4zM837 292h12v2h-12zM407 292h4v2h-4zM421 292h3v2h-3zM1000 289h3v6h-3zM982 291h3v4h-3zM439 292h3v3h-3zM738 292h12v3h-12zM1063 292h12v3h-12zM1045 292h3v3h-3zM882 292h12v3h-12zM683 293h3v2h-3zM638 293h3v2h-3zM964 293h3v2h-3zM792 293h3v2h-3zM1145 293h12v2h-12zM837 294h13v1h-13zM420 294h4v2h-4zM846 295h4v1h-4zM620 293h3v4h-3zM408 294h3v3h-3zM982 295h4v2h-4zM999 295h4v2h-4zM847 296h4v2h-4zM419 296h4v2h-4zM619 297h4v2h-4zM999 297h3v2h-3zM408 297h4v2h-4zM983 297h3v2h-3zM848 298h4v2h-4zM418 298h4v2h-4zM998 299h4v2h-4zM983 299h4v2h-4zM409 299h3v2h-3zM849 300h4v2h-4zM417 300h4v2h-4zM856 288h3v15h-3zM998 301h3v2h-3zM984 301h3v2h-3zM409 301h4v2h-4zM850 302h4v2h-4zM416 302h4v2h-4zM855 303h4v1h-4zM619 299h3v6h-3zM997 303h4v2h-4zM984 303h4v2h-4zM410 303h3v2h-3zM851 304h8v1h-8zM415 304h4v2h-4zM410 305h4v1h-4zM851 305h7v1h-7zM618 305h4v2h-4zM985 305h3v2h-3zM997 305h3v2h-3zM410 306h8v1h-8zM852 306h6v2h-6zM411 307h7v1h-7zM607 294h3v15h-3zM985 307h4v2h-4zM996 307h4v2h-4zM411 308h6v2h-6zM853 308h5v2h-5zM996 309h3v2h-3zM986 309h3v2h-3zM607 309h4v2h-4zM411 310h5v1h-5zM854 310h4v2h-4zM412 311h4v1h-4zM986 311h4v2h-4zM995 311h4v2h-4zM618 307h3v7h-3zM855 312h3v2h-3zM412 312h3v2h-3zM987 313h3v3h-3zM995 313h3v3h-3zM617 314h4v2h-4zM994 316h4v2h-4zM987 316h4v2h-4zM994 318h3v2h-3zM988 318h3v2h-3zM617 316h3v6h-3zM993 320h4v2h-4zM988 320h4v2h-4zM616 322h4v2h-4zM993 322h3v2h-3zM989 322h3v2h-3zM608 311h3v15h-3zM989 324h7v2h-7zM608 326h4v2h-4zM616 324h3v6h-3zM990 326h5v4h-5zM615 330h4v2h-4zM991 330h3v3h-3zM615 332h3v7h-3zM614 339h4v2h-4zM609 328h3v15h-3zM609 343h4v2h-4zM614 341h3v6h-3zM610 345h3v2h-3zM610 347h7v2h-7zM610 349h6v9h-6zM610 358h5v4h-5zM611 362h4v4h-4zM611 366h3v3h-3zM611 370h3v1h-3z"/>
<path fill="#000000" d="M105 65h1060v1h-1060zM266 66h1v2h-1zM429 66h1v2h-1zM1162 66h1v2h-1zM374 66h1v2h-1zM836 66h1v2h-1zM211 66h1v2h-1zM510 66h1v2h-1zM1080 66h1v2h-1zM1135 66h1v2h-1zM917 66h1v2h-1zM972 66h1v2h-1zM809 66h1v2h-1zM184 66h1v2h-1zM646 66h1v2h-1zM754 66h1v2h-1zM320 66h1v2h-1zM483 66h1v2h-1zM157 66h1v2h-1zM1053 66h1v2h-1zM945 66h1v2h-1zM727 66h1v2h-1zM619 66h1v2h-1zM401 66h1v2h-1zM863 66h1v2h-1zM1026 66h1v2h-1zM700 66h1v2h-1zM293 66h1v2h-1zM537 66h1v2h-1zM592 66h1v2h-1zM999 66h1v5h-1zM673 66h1v5h-1zM347 66h1v5h-1zM239 66h1v5h-1zM890 66h1v5h-1zM564 66h1v5h-1zM782 66h1v5h-1zM456 66h1v5h-1zM1107 66h1v5h-1zM130 66h1v5h-1zM105 66h1v37h-1zM1164 66h1v37h-1zM105 103h6v1h-6zM1159 103h6v1h-6zM105 104h1v37h-1zM105 141h6v1h-6zM1159 141h4v1h-4zM105 142h1v37h-1zM105 179h6v1h-6zM1159 179h2v1h-2zM1164 104h1v113h-1zM105 180h1v37h-1zM105 217h6v1h-6zM1162 217h3v1h-3zM105 218h1v37h-1zM1164 218h1v37h-1zM105 255h6v1h-6zM1159 255h6v1h-6zM105 256h1v37h-1zM1164 256h1v37h-1zM105 293h6v1h-6zM1159 293h6v1h-6zM105 294h1v37h-1zM1164 294h1v37h-1zM105 331h6v1h-6zM1159 331h6v1h-6zM1164 332h1v37h-1zM105 332h1v37h-1zM347 364h1v5h-1zM456 364h1v5h-1zM782 364h1v5h-1zM1107 364h1v5h-1zM890 364h1v5h-1zM999 364h1v5h-1zM673 364h1v5h-1zM564 364h1v5h-1zM130 364h1v5h-1zM239 364h1v5h-1zM266 367h1v2h-1zM429 367h1v2h-1zM1162 367h1v2h-1zM374 367h1v2h-1zM836 367h1v2h-1zM211 367h1v2h-1zM510 367h1v2h-1zM1080 367h1v2h-1zM1135 367h1v2h-1zM917 367h1v2h-1zM972 367h1v2h-1zM809 367h1v2h-1zM184 367h1v2h-1zM646 367h1v2h-1zM754 367h1v2h-1zM320 367h1v2h-1zM483 367h1v2h-1zM157 367h1v2h-1zM1053 367h1v2h-1zM945 367h1v2h-1zM727 367h1v2h-1zM619 367h1v2h-1zM401 367h1v2h-1zM863 367h1v2h-1zM1026 367h1v2h-1zM700 367h1v2h-1zM293 367h1v2h-1zM537 367h1v2h-1zM592 367h1v2h-1zM105 369h1060v1h-1060z"/>
</g>
<g font-size="17">
<text transform="translate(510.5 38) scale(0.9823 1)" font-size="25.5" x="-0.27 18.04 31.08 46.89 55.85 68.42 77 92.16 107.97 116.77 123.8 139.74 155.55 164.91 171.52 186.59 201.46 211.79 227.33 243.31" y="0" xml:space="preserve">Users per Period(4h)</text>
<text transform="translate(81.13 373) scale(0.9995 1)" x="0.06 6.14" y="0">-4</text>
<text transform="translate(81.83 335) scale(0.9766 1)" x="0.13 6.18" y="0">-2</text>
<text transform="translate(88.04 297) scale(0.9921 1)" x="0.4" y="0">0</text>
<text transform="translate(88.69 259) scale(0.9563 1)" x="0.37" y="0">2</text>
<text transform="translate(87.6 221) scale(0.9922 1)" x="0.4" y="0">4</text>
<text transform="translate(88.05 183) scale(1.0268 1)" x="0.22" y="0">6</text>
<text transform="translate(88.1 145) scale(1.0029 1)" x="0.34" y="0">8</text>
<text transform="translate(78.56 107) scale(0.9710 1)" x="0.43 10.99" y="0">10</text>
<text transform="translate(79.1 69) scale(0.9521 1)" x="0.53 11.09" y="0">12</text>
<text transform="translate(133 468) rotate(-90) scale(0.9733 1)" x="0.28 10.96 21.2 31.81 42.08 47.56 57.97 68.22 73.49 84.19" y="0">2025.09.23</text>
<text transform="translate(242 468) rotate(-90) scale(0.9713 1)" x="0.29 10.99 21.25 31.89 42.17 47.67 58.1 68.37 73.65 84.28" y="0">2025.09.25</text>
<text transform="translate(350 468) rotate(-90) scale(0.9754 1)" x="0.27 10.92 21.14 31.73 41.98 47.45 57.83 68.07 73.31 83.93" y="0">2025.09.27</text>
<text transform="translate(459 468) rotate(-90) scale(0.9818 1)" x="0.24 10.82 20.97 31.49 41.69 47.11 57.42 67.61 72.81 83.34" y="0">2025.09.29</text>
<text transform="translate(567 468) rotate(-90) scale(0.9682 1)" x="0.31 11.04 21.33 32 42.31 47.75 58.35 68.59 74.11 84.54" y="0">2025.10.01</text>
<text transform="translate(676 468) rotate(-90) scale(0.9686 1)" x="0.31 11.03 21.32 31.99 42.29 47.73 58.32 68.56 74.08 84.61" y="0">2025.10.03</text>
<text transform="translate(785 468) rotate(-90) scale(0.9666 1)" x="0.32 11.07 21.38 32.06 42.38 47.84 58.45 68.71 74.24 84.71" y="0">2025.10.05</text>
<text transform="translate(893 468) rotate(-90) scale(0.9708 1)" x="0.29 11 21.27 31.91 42.19 47.61 58.18 68.4 73.91 84.36" y="0">2025.10.07</text>
<text transform="translate(1002 468) rotate(-90) scale(0.9772 1)" x="0.26 10.89 21.1 31.67 41.9 47.27 57.77 67.94 73.39 83.75" y="0">2025.10.09</text>
<text transform="translate(1110 468) rotate(-90) scale(0.9629 1)" x="0.34 11.13 21.48 32.2 42.56 48.04 58.69 68.98 74.47 85.04" y="0">2025.10.11</text>
</g>
</svg>
</body></html>
